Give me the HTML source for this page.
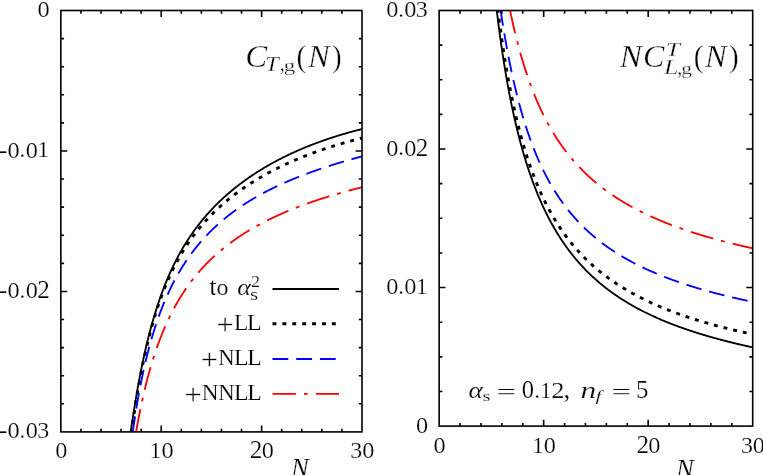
<!DOCTYPE html>
<html><head><meta charset="utf-8"><title>plot</title>
<style>html,body{margin:0;padding:0;background:#fff;overflow:hidden;}svg{display:block;}text{font-family:"Liberation Serif",serif;fill:#000;}</style></head>
<body>
<svg width="763" height="475" viewBox="0 0 763 475">
<rect width="763" height="475" fill="#fff"/>
<path d="M130.73,431.90 L131.19,428.67 L131.65,425.49 L132.12,422.36 L132.58,419.28 L133.04,416.24 L133.51,413.24 L133.97,410.29 L134.43,407.39 L134.90,404.53 L135.36,401.71 L135.82,398.93 L136.29,396.20 L136.75,393.50 L137.21,390.85 L137.68,388.24 L138.14,385.66 L138.61,383.13 L139.07,380.63 L139.53,378.17 L140.00,375.75 L140.46,373.36 L140.92,371.01 L141.39,368.69 L141.85,366.41 L142.31,364.16 L142.78,361.94 L143.24,359.76 L143.70,357.61 L144.17,355.48 L144.63,353.39 L145.09,351.33 L145.56,349.30 L146.02,347.30 L146.48,345.33 L146.95,343.38 L147.41,341.47 L147.87,339.58 L148.34,337.71 L148.80,335.88 L149.26,334.06 L149.73,332.28 L150.19,330.51 L150.66,328.78 L151.12,327.06 L151.58,325.37 L152.05,323.70 L152.51,322.06 L152.97,320.43 L153.44,318.83 L153.90,317.25 L154.36,315.69 L154.83,314.15 L155.29,312.63 L155.75,311.13 L156.22,309.65 L156.68,308.19 L157.14,306.75 L157.61,305.32 L158.07,303.92 L158.53,302.53 L159.00,301.15 L159.46,299.80 L159.92,298.46 L160.39,297.14 L160.85,295.84 L161.32,294.55 L161.78,293.27 L162.24,292.01 L162.71,290.77 L163.17,289.54 L163.63,288.33 L164.10,287.13 L164.56,285.94 L165.02,284.77 L165.49,283.61 L165.95,282.46 L166.41,281.33 L166.88,280.21 L167.34,279.10 L167.80,278.00 L168.27,276.92 L168.73,275.85 L169.19,274.79 L169.66,273.74 L170.12,272.70 L170.58,271.68 L171.05,270.66 L171.51,269.66 L171.98,268.66 L172.44,267.68 L172.90,266.71 L173.37,265.75 L173.83,264.79 L174.29,263.85 L174.76,262.91 L175.22,261.99 L175.68,261.07 L176.15,260.17 L176.61,259.27 L177.07,258.38 L177.54,257.50 L178.00,256.63 L178.46,255.77 L178.93,254.91 L179.39,254.07 L179.85,253.23 L180.32,252.40 L180.78,251.57 L181.24,250.76 L181.71,249.95 L182.17,249.15 L182.64,248.35 L183.10,247.57 L183.56,246.79 L184.03,246.02 L184.49,245.25 L184.95,244.49 L185.42,243.74 L185.88,242.99 L186.34,242.25 L186.81,241.52 L187.27,240.79 L187.73,240.07 L188.20,239.36 L188.66,238.65 L189.12,237.95 L189.59,237.25 L190.05,236.56 L190.51,235.87 L190.98,235.19 L191.44,234.52 L191.90,233.85 L192.37,233.18 L192.83,232.53 L193.30,231.87 L193.76,231.22 L194.22,230.58 L194.69,229.94 L195.15,229.31 L195.61,228.68 L196.08,228.05 L196.54,227.44 L197.00,226.82 L197.47,226.21 L197.93,225.61 L198.39,225.00 L198.86,224.41 L199.32,223.82 L199.78,223.23 L200.25,222.64 L200.71,222.06 L201.17,221.49 L201.64,220.92 L202.10,220.35 L202.56,219.79 L203.03,219.23 L203.49,218.67 L203.96,218.12 L204.42,217.57 L204.88,217.03 L205.35,216.48 L205.81,215.95 L206.27,215.41 L206.74,214.88 L207.20,214.36 L207.66,213.83 L208.13,213.31 L208.59,212.80 L209.05,212.29 L209.52,211.78 L209.98,211.27 L210.44,210.77 L210.91,210.27 L211.37,209.77 L211.83,209.28 L212.30,208.79 L212.76,208.30 L213.22,207.81 L213.69,207.33 L214.15,206.85 L214.61,206.38 L215.08,205.91 L215.54,205.44 L216.01,204.97 L216.47,204.51 L216.93,204.04 L217.40,203.58 L217.86,203.13 L218.32,202.68 L218.79,202.23 L219.25,201.78 L219.71,201.33 L220.18,200.89 L220.64,200.45 L221.10,200.01 L221.57,199.58 L222.03,199.14 L222.49,198.71 L222.96,198.29 L223.42,197.86 L223.88,197.44 L224.35,197.02 L224.81,196.60 L225.27,196.18 L225.74,195.77 L226.20,195.36 L226.67,194.95 L227.13,194.54 L227.59,194.14 L228.06,193.73 L228.52,193.33 L228.98,192.93 L229.45,192.54 L229.91,192.14 L230.37,191.75 L230.84,191.36 L231.30,190.97 L231.76,190.59 L232.23,190.20 L232.69,189.82 L233.15,189.44 L233.62,189.06 L234.08,188.69 L234.54,188.31 L235.01,187.94 L235.47,187.57 L235.93,187.20 L236.40,186.84 L236.86,186.47 L237.33,186.11 L237.79,185.75 L238.25,185.39 L238.72,185.03 L239.18,184.68 L239.64,184.32 L240.11,183.97 L240.57,183.62 L241.03,183.27 L241.50,182.93 L241.96,182.58 L242.42,182.24 L242.89,181.89 L243.35,181.55 L243.81,181.22 L244.28,180.88 L244.74,180.54 L245.20,180.21 L245.67,179.88 L246.13,179.55 L246.59,179.22 L247.06,178.89 L247.52,178.57 L247.99,178.24 L248.45,177.92 L248.91,177.60 L249.38,177.28 L249.84,176.96 L250.30,176.64 L250.77,176.33 L251.23,176.01 L251.69,175.70 L252.16,175.39 L252.62,175.08 L253.08,174.77 L253.55,174.47 L254.01,174.16 L254.47,173.86 L254.94,173.55 L255.40,173.25 L255.86,172.95 L256.33,172.66 L256.79,172.36 L257.25,172.06 L257.72,171.77 L258.18,171.48 L258.65,171.18 L259.11,170.89 L259.57,170.60 L260.04,170.32 L260.50,170.03 L260.96,169.75 L261.43,169.46 L261.89,169.18 L262.35,168.90 L262.82,168.62 L263.28,168.34 L263.74,168.06 L264.21,167.78 L264.67,167.51 L265.13,167.23 L265.60,166.96 L266.06,166.69 L266.52,166.42 L266.99,166.15 L267.45,165.88 L267.91,165.61 L268.38,165.35 L268.84,165.08 L269.30,164.82 L269.77,164.56 L270.23,164.30 L270.70,164.04 L271.16,163.78 L271.62,163.52 L272.09,163.26 L272.55,163.01 L273.01,162.75 L273.48,162.50 L273.94,162.25 L274.40,161.99 L274.87,161.74 L275.33,161.50 L275.79,161.25 L276.26,161.00 L276.72,160.75 L277.18,160.51 L277.65,160.26 L278.11,160.02 L278.57,159.78 L279.04,159.54 L279.50,159.30 L279.96,159.06 L280.43,158.82 L280.89,158.58 L281.36,158.35 L281.82,158.11 L282.28,157.88 L282.75,157.65 L283.21,157.41 L283.67,157.18 L284.14,156.95 L284.60,156.72 L285.06,156.50 L285.53,156.27 L285.99,156.04 L286.45,155.82 L286.92,155.59 L287.38,155.37 L287.84,155.15 L288.31,154.92 L288.77,154.70 L289.23,154.48 L289.70,154.27 L290.16,154.05 L290.62,153.83 L291.09,153.61 L291.55,153.40 L292.02,153.18 L292.48,152.97 L292.94,152.76 L293.41,152.55 L293.87,152.33 L294.33,152.12 L294.80,151.92 L295.26,151.71 L295.72,151.50 L296.19,151.29 L296.65,151.09 L297.11,150.88 L297.58,150.68 L298.04,150.47 L298.50,150.27 L298.97,150.07 L299.43,149.87 L299.89,149.67 L300.36,149.47 L300.82,149.27 L301.28,149.07 L301.75,148.88 L302.21,148.68 L302.68,148.49 L303.14,148.29 L303.60,148.10 L304.07,147.91 L304.53,147.71 L304.99,147.52 L305.46,147.33 L305.92,147.14 L306.38,146.95 L306.85,146.76 L307.31,146.58 L307.77,146.39 L308.24,146.20 L308.70,146.02 L309.16,145.83 L309.63,145.65 L310.09,145.47 L310.55,145.29 L311.02,145.10 L311.48,144.92 L311.94,144.74 L312.41,144.56 L312.87,144.39 L313.34,144.21 L313.80,144.03 L314.26,143.85 L314.73,143.68 L315.19,143.50 L315.65,143.33 L316.12,143.16 L316.58,142.98 L317.04,142.81 L317.51,142.64 L317.97,142.47 L318.43,142.30 L318.90,142.13 L319.36,141.96 L319.82,141.79 L320.29,141.63 L320.75,141.46 L321.21,141.29 L321.68,141.13 L322.14,140.96 L322.60,140.80 L323.07,140.64 L323.53,140.47 L324.00,140.31 L324.46,140.15 L324.92,139.99 L325.39,139.83 L325.85,139.67 L326.31,139.51 L326.78,139.35 L327.24,139.20 L327.70,139.04 L328.17,138.88 L328.63,138.73 L329.09,138.57 L329.56,138.42 L330.02,138.26 L330.48,138.11 L330.95,137.96 L331.41,137.81 L331.87,137.66 L332.34,137.50 L332.80,137.35 L333.26,137.21 L333.73,137.06 L334.19,136.91 L334.65,136.76 L335.12,136.61 L335.58,136.47 L336.05,136.32 L336.51,136.18 L336.97,136.03 L337.44,135.89 L337.90,135.74 L338.36,135.60 L338.83,135.46 L339.29,135.32 L339.75,135.18 L340.22,135.04 L340.68,134.90 L341.14,134.76 L341.61,134.62 L342.07,134.48 L342.53,134.34 L343.00,134.21 L343.46,134.07 L343.92,133.93 L344.39,133.80 L344.85,133.66 L345.31,133.53 L345.78,133.39 L346.24,133.26 L346.71,133.13 L347.17,133.00 L347.63,132.86 L348.10,132.73 L348.56,132.60 L349.02,132.47 L349.49,132.34 L349.95,132.21 L350.41,132.09 L350.88,131.96 L351.34,131.83 L351.80,131.70 L352.27,131.58 L352.73,131.45 L353.19,131.33 L353.66,131.20 L354.12,131.08 L354.58,130.95 L355.05,130.83 L355.51,130.71 L355.97,130.59 L356.44,130.46 L356.90,130.34 L357.37,130.22 L357.83,130.10 L358.29,129.98 L358.76,129.86 L359.22,129.75 L359.68,129.63 L360.15,129.51 L360.61,129.39 L361.07,129.28 L361.54,129.16 L362.00,129.04" fill="none" stroke="#000" stroke-width="1.85"/>
<path d="M131.50,431.90 L131.97,428.54 L132.43,425.24 L132.89,422.00 L133.35,418.81 L133.81,415.68 L134.28,412.60 L134.74,409.58 L135.20,406.61 L135.66,403.68 L136.12,400.81 L136.59,397.99 L137.05,395.21 L137.51,392.48 L137.97,389.79 L138.43,387.15 L138.89,384.56 L139.36,382.01 L139.82,379.49 L140.28,377.03 L140.74,374.60 L141.20,372.21 L141.67,369.85 L142.13,367.54 L142.59,365.26 L143.05,363.02 L143.51,360.82 L143.98,358.65 L144.44,356.52 L144.90,354.41 L145.36,352.34 L145.82,350.31 L146.29,348.30 L146.75,346.33 L147.21,344.38 L147.67,342.46 L148.13,340.58 L148.60,338.72 L149.06,336.89 L149.52,335.09 L149.98,333.31 L150.44,331.56 L150.90,329.83 L151.37,328.13 L151.83,326.46 L152.29,324.80 L152.75,323.18 L153.21,321.57 L153.68,319.99 L154.14,318.43 L154.60,316.89 L155.06,315.37 L155.52,313.88 L155.99,312.40 L156.45,310.94 L156.91,309.51 L157.37,308.09 L157.83,306.69 L158.30,305.31 L158.76,303.95 L159.22,302.61 L159.68,301.28 L160.14,299.97 L160.60,298.68 L161.07,297.41 L161.53,296.15 L161.99,294.90 L162.45,293.67 L162.91,292.46 L163.38,291.26 L163.84,290.08 L164.30,288.91 L164.76,287.76 L165.22,286.62 L165.69,285.49 L166.15,284.38 L166.61,283.28 L167.07,282.19 L167.53,281.12 L168.00,280.05 L168.46,279.00 L168.92,277.97 L169.38,276.94 L169.84,275.92 L170.31,274.92 L170.77,273.93 L171.23,272.95 L171.69,271.98 L172.15,271.02 L172.61,270.07 L173.08,269.13 L173.54,268.20 L174.00,267.28 L174.46,266.37 L174.92,265.47 L175.39,264.58 L175.85,263.70 L176.31,262.83 L176.77,261.97 L177.23,261.11 L177.70,260.26 L178.16,259.43 L178.62,258.60 L179.08,257.78 L179.54,256.96 L180.01,256.16 L180.47,255.36 L180.93,254.57 L181.39,253.79 L181.85,253.02 L182.31,252.25 L182.78,251.49 L183.24,250.74 L183.70,249.99 L184.16,249.25 L184.62,248.52 L185.09,247.79 L185.55,247.07 L186.01,246.36 L186.47,245.66 L186.93,244.96 L187.40,244.26 L187.86,243.57 L188.32,242.89 L188.78,242.22 L189.24,241.55 L189.71,240.88 L190.17,240.22 L190.63,239.57 L191.09,238.92 L191.55,238.28 L192.02,237.64 L192.48,237.01 L192.94,236.38 L193.40,235.76 L193.86,235.14 L194.32,234.53 L194.79,233.93 L195.25,233.32 L195.71,232.73 L196.17,232.13 L196.63,231.55 L197.10,230.96 L197.56,230.38 L198.02,229.81 L198.48,229.24 L198.94,228.67 L199.41,228.11 L199.87,227.55 L200.33,227.00 L200.79,226.45 L201.25,225.90 L201.72,225.36 L202.18,224.82 L202.64,224.29 L203.10,223.76 L203.56,223.23 L204.02,222.71 L204.49,222.19 L204.95,221.68 L205.41,221.17 L205.87,220.66 L206.33,220.15 L206.80,219.65 L207.26,219.15 L207.72,218.66 L208.18,218.17 L208.64,217.68 L209.11,217.20 L209.57,216.72 L210.03,216.24 L210.49,215.76 L210.95,215.29 L211.42,214.82 L211.88,214.36 L212.34,213.89 L212.80,213.43 L213.26,212.98 L213.73,212.52 L214.19,212.07 L214.65,211.62 L215.11,211.18 L215.57,210.73 L216.03,210.29 L216.50,209.86 L216.96,209.42 L217.42,208.99 L217.88,208.56 L218.34,208.13 L218.81,207.71 L219.27,207.29 L219.73,206.87 L220.19,206.45 L220.65,206.03 L221.12,205.62 L221.58,205.21 L222.04,204.80 L222.50,204.40 L222.96,204.00 L223.43,203.60 L223.89,203.20 L224.35,202.80 L224.81,202.41 L225.27,202.02 L225.74,201.63 L226.20,201.24 L226.66,200.86 L227.12,200.47 L227.58,200.09 L228.04,199.71 L228.51,199.34 L228.97,198.96 L229.43,198.59 L229.89,198.22 L230.35,197.85 L230.82,197.48 L231.28,197.12 L231.74,196.76 L232.20,196.40 L232.66,196.04 L233.13,195.68 L233.59,195.33 L234.05,194.97 L234.51,194.62 L234.97,194.27 L235.44,193.92 L235.90,193.58 L236.36,193.23 L236.82,192.89 L237.28,192.55 L237.74,192.21 L238.21,191.87 L238.67,191.54 L239.13,191.20 L239.59,190.87 L240.05,190.54 L240.52,190.21 L240.98,189.88 L241.44,189.56 L241.90,189.23 L242.36,188.91 L242.83,188.59 L243.29,188.27 L243.75,187.95 L244.21,187.64 L244.67,187.32 L245.14,187.01 L245.60,186.69 L246.06,186.38 L246.52,186.08 L246.98,185.77 L247.45,185.46 L247.91,185.16 L248.37,184.85 L248.83,184.55 L249.29,184.25 L249.75,183.95 L250.22,183.65 L250.68,183.36 L251.14,183.06 L251.60,182.77 L252.06,182.48 L252.53,182.19 L252.99,181.90 L253.45,181.61 L253.91,181.32 L254.37,181.04 L254.84,180.75 L255.30,180.47 L255.76,180.19 L256.22,179.91 L256.68,179.63 L257.15,179.35 L257.61,179.07 L258.07,178.80 L258.53,178.52 L258.99,178.25 L259.45,177.98 L259.92,177.71 L260.38,177.44 L260.84,177.17 L261.30,176.90 L261.76,176.64 L262.23,176.37 L262.69,176.11 L263.15,175.84 L263.61,175.58 L264.07,175.32 L264.54,175.06 L265.00,174.81 L265.46,174.55 L265.92,174.29 L266.38,174.04 L266.85,173.78 L267.31,173.53 L267.77,173.28 L268.23,173.03 L268.69,172.78 L269.16,172.53 L269.62,172.28 L270.08,172.04 L270.54,171.79 L271.00,171.55 L271.46,171.30 L271.93,171.06 L272.39,170.82 L272.85,170.58 L273.31,170.34 L273.77,170.10 L274.24,169.87 L274.70,169.63 L275.16,169.39 L275.62,169.16 L276.08,168.93 L276.55,168.69 L277.01,168.46 L277.47,168.23 L277.93,168.00 L278.39,167.77 L278.86,167.55 L279.32,167.32 L279.78,167.09 L280.24,166.87 L280.70,166.64 L281.16,166.42 L281.63,166.20 L282.09,165.98 L282.55,165.76 L283.01,165.54 L283.47,165.32 L283.94,165.10 L284.40,164.88 L284.86,164.67 L285.32,164.45 L285.78,164.24 L286.25,164.02 L286.71,163.81 L287.17,163.60 L287.63,163.39 L288.09,163.18 L288.56,162.97 L289.02,162.76 L289.48,162.55 L289.94,162.34 L290.40,162.14 L290.87,161.93 L291.33,161.73 L291.79,161.52 L292.25,161.32 L292.71,161.12 L293.17,160.92 L293.64,160.72 L294.10,160.52 L294.56,160.32 L295.02,160.12 L295.48,159.92 L295.95,159.73 L296.41,159.53 L296.87,159.34 L297.33,159.14 L297.79,158.95 L298.26,158.76 L298.72,158.56 L299.18,158.37 L299.64,158.18 L300.10,157.99 L300.57,157.80 L301.03,157.61 L301.49,157.43 L301.95,157.24 L302.41,157.05 L302.87,156.87 L303.34,156.68 L303.80,156.50 L304.26,156.31 L304.72,156.13 L305.18,155.95 L305.65,155.77 L306.11,155.59 L306.57,155.41 L307.03,155.23 L307.49,155.05 L307.96,154.87 L308.42,154.69 L308.88,154.52 L309.34,154.34 L309.80,154.17 L310.27,153.99 L310.73,153.82 L311.19,153.64 L311.65,153.47 L312.11,153.30 L312.58,153.13 L313.04,152.96 L313.50,152.79 L313.96,152.62 L314.42,152.45 L314.88,152.28 L315.35,152.11 L315.81,151.95 L316.27,151.78 L316.73,151.61 L317.19,151.45 L317.66,151.28 L318.12,151.12 L318.58,150.96 L319.04,150.79 L319.50,150.63 L319.97,150.47 L320.43,150.31 L320.89,150.15 L321.35,149.99 L321.81,149.83 L322.28,149.67 L322.74,149.52 L323.20,149.36 L323.66,149.20 L324.12,149.05 L324.58,148.89 L325.05,148.74 L325.51,148.58 L325.97,148.43 L326.43,148.27 L326.89,148.12 L327.36,147.97 L327.82,147.82 L328.28,147.67 L328.74,147.52 L329.20,147.37 L329.67,147.22 L330.13,147.07 L330.59,146.92 L331.05,146.77 L331.51,146.63 L331.98,146.48 L332.44,146.33 L332.90,146.19 L333.36,146.04 L333.82,145.90 L334.29,145.76 L334.75,145.61 L335.21,145.47 L335.67,145.33 L336.13,145.19 L336.59,145.05 L337.06,144.90 L337.52,144.76 L337.98,144.62 L338.44,144.49 L338.90,144.35 L339.37,144.21 L339.83,144.07 L340.29,143.93 L340.75,143.80 L341.21,143.66 L341.68,143.53 L342.14,143.39 L342.60,143.26 L343.06,143.12 L343.52,142.99 L343.99,142.86 L344.45,142.72 L344.91,142.59 L345.37,142.46 L345.83,142.33 L346.29,142.20 L346.76,142.07 L347.22,141.94 L347.68,141.81 L348.14,141.68 L348.60,141.55 L349.07,141.42 L349.53,141.30 L349.99,141.17 L350.45,141.04 L350.91,140.92 L351.38,140.79 L351.84,140.67 L352.30,140.54 L352.76,140.42 L353.22,140.30 L353.69,140.17 L354.15,140.05 L354.61,139.93 L355.07,139.81 L355.53,139.69 L356.00,139.56 L356.46,139.44 L356.92,139.32 L357.38,139.20 L357.84,139.09 L358.30,138.97 L358.77,138.85 L359.23,138.73 L359.69,138.61 L360.15,138.50 L360.61,138.38 L361.08,138.26 L361.54,138.15 L362.00,138.03" fill="none" stroke="#000" stroke-width="2.9" stroke-dasharray="3.9 6.0" stroke-dashoffset="1.55"/>
<path d="M132.79,431.90 L133.25,428.63 L133.71,425.44 L134.17,422.31 L134.63,419.25 L135.09,416.25 L135.55,413.32 L136.00,410.44 L136.46,407.63 L136.92,404.87 L137.38,402.16 L137.84,399.51 L138.30,396.91 L138.76,394.36 L139.22,391.86 L139.68,389.41 L140.14,387.00 L140.60,384.64 L141.06,382.31 L141.52,380.04 L141.98,377.80 L142.44,375.60 L142.89,373.44 L143.35,371.32 L143.81,369.23 L144.27,367.18 L144.73,365.17 L145.19,363.19 L145.65,361.24 L146.11,359.32 L146.57,357.43 L147.03,355.58 L147.49,353.75 L147.95,351.95 L148.41,350.19 L148.87,348.44 L149.33,346.73 L149.78,345.04 L150.24,343.38 L150.70,341.74 L151.16,340.12 L151.62,338.53 L152.08,336.97 L152.54,335.42 L153.00,333.90 L153.46,332.40 L153.92,330.92 L154.38,329.46 L154.84,328.02 L155.30,326.60 L155.76,325.20 L156.22,323.81 L156.68,322.45 L157.13,321.11 L157.59,319.78 L158.05,318.47 L158.51,317.17 L158.97,315.90 L159.43,314.64 L159.89,313.39 L160.35,312.16 L160.81,310.95 L161.27,309.75 L161.73,308.57 L162.19,307.40 L162.65,306.24 L163.11,305.10 L163.57,303.97 L164.02,302.85 L164.48,301.75 L164.94,300.66 L165.40,299.58 L165.86,298.52 L166.32,297.47 L166.78,296.43 L167.24,295.40 L167.70,294.38 L168.16,293.37 L168.62,292.38 L169.08,291.39 L169.54,290.42 L170.00,289.46 L170.46,288.50 L170.91,287.56 L171.37,286.63 L171.83,285.70 L172.29,284.79 L172.75,283.88 L173.21,282.99 L173.67,282.10 L174.13,281.23 L174.59,280.36 L175.05,279.50 L175.51,278.65 L175.97,277.80 L176.43,276.97 L176.89,276.14 L177.35,275.32 L177.80,274.51 L178.26,273.71 L178.72,272.91 L179.18,272.13 L179.64,271.35 L180.10,270.57 L180.56,269.81 L181.02,269.05 L181.48,268.30 L181.94,267.55 L182.40,266.81 L182.86,266.08 L183.32,265.36 L183.78,264.64 L184.24,263.92 L184.69,263.22 L185.15,262.52 L185.61,261.82 L186.07,261.14 L186.53,260.46 L186.99,259.78 L187.45,259.11 L187.91,258.44 L188.37,257.79 L188.83,257.13 L189.29,256.48 L189.75,255.84 L190.21,255.20 L190.67,254.57 L191.13,253.94 L191.58,253.32 L192.04,252.71 L192.50,252.09 L192.96,251.49 L193.42,250.88 L193.88,250.29 L194.34,249.69 L194.80,249.11 L195.26,248.52 L195.72,247.94 L196.18,247.37 L196.64,246.80 L197.10,246.23 L197.56,245.67 L198.02,245.11 L198.48,244.56 L198.93,244.01 L199.39,243.47 L199.85,242.93 L200.31,242.39 L200.77,241.86 L201.23,241.33 L201.69,240.80 L202.15,240.28 L202.61,239.76 L203.07,239.25 L203.53,238.74 L203.99,238.23 L204.45,237.73 L204.91,237.23 L205.37,236.74 L205.82,236.24 L206.28,235.76 L206.74,235.27 L207.20,234.79 L207.66,234.31 L208.12,233.83 L208.58,233.36 L209.04,232.89 L209.50,232.43 L209.96,231.96 L210.42,231.50 L210.88,231.05 L211.34,230.59 L211.80,230.14 L212.26,229.70 L212.71,229.25 L213.17,228.81 L213.63,228.37 L214.09,227.93 L214.55,227.50 L215.01,227.07 L215.47,226.64 L215.93,226.22 L216.39,225.80 L216.85,225.38 L217.31,224.96 L217.77,224.55 L218.23,224.13 L218.69,223.72 L219.15,223.32 L219.60,222.91 L220.06,222.51 L220.52,222.11 L220.98,221.72 L221.44,221.32 L221.90,220.93 L222.36,220.54 L222.82,220.15 L223.28,219.77 L223.74,219.39 L224.20,219.00 L224.66,218.63 L225.12,218.25 L225.58,217.88 L226.04,217.51 L226.49,217.14 L226.95,216.77 L227.41,216.40 L227.87,216.04 L228.33,215.68 L228.79,215.32 L229.25,214.96 L229.71,214.61 L230.17,214.26 L230.63,213.91 L231.09,213.56 L231.55,213.21 L232.01,212.86 L232.47,212.52 L232.93,212.18 L233.38,211.84 L233.84,211.50 L234.30,211.17 L234.76,210.83 L235.22,210.50 L235.68,210.17 L236.14,209.84 L236.60,209.52 L237.06,209.19 L237.52,208.87 L237.98,208.55 L238.44,208.23 L238.90,207.91 L239.36,207.59 L239.82,207.28 L240.27,206.97 L240.73,206.65 L241.19,206.34 L241.65,206.04 L242.11,205.73 L242.57,205.42 L243.03,205.12 L243.49,204.82 L243.95,204.52 L244.41,204.22 L244.87,203.92 L245.33,203.62 L245.79,203.33 L246.25,203.04 L246.71,202.75 L247.17,202.46 L247.62,202.17 L248.08,201.88 L248.54,201.59 L249.00,201.31 L249.46,201.03 L249.92,200.74 L250.38,200.46 L250.84,200.18 L251.30,199.91 L251.76,199.63 L252.22,199.36 L252.68,199.08 L253.14,198.81 L253.60,198.54 L254.06,198.27 L254.51,198.00 L254.97,197.73 L255.43,197.47 L255.89,197.20 L256.35,196.94 L256.81,196.67 L257.27,196.41 L257.73,196.15 L258.19,195.89 L258.65,195.64 L259.11,195.38 L259.57,195.12 L260.03,194.87 L260.49,194.62 L260.95,194.37 L261.40,194.11 L261.86,193.86 L262.32,193.62 L262.78,193.37 L263.24,193.12 L263.70,192.88 L264.16,192.63 L264.62,192.39 L265.08,192.15 L265.54,191.91 L266.00,191.67 L266.46,191.43 L266.92,191.19 L267.38,190.95 L267.84,190.72 L268.29,190.48 L268.75,190.25 L269.21,190.01 L269.67,189.78 L270.13,189.55 L270.59,189.32 L271.05,189.09 L271.51,188.86 L271.97,188.64 L272.43,188.41 L272.89,188.18 L273.35,187.96 L273.81,187.74 L274.27,187.51 L274.73,187.29 L275.18,187.07 L275.64,186.85 L276.10,186.63 L276.56,186.41 L277.02,186.20 L277.48,185.98 L277.94,185.76 L278.40,185.55 L278.86,185.33 L279.32,185.12 L279.78,184.91 L280.24,184.70 L280.70,184.49 L281.16,184.28 L281.62,184.07 L282.07,183.86 L282.53,183.65 L282.99,183.45 L283.45,183.24 L283.91,183.04 L284.37,182.83 L284.83,182.63 L285.29,182.43 L285.75,182.22 L286.21,182.02 L286.67,181.82 L287.13,181.62 L287.59,181.42 L288.05,181.23 L288.51,181.03 L288.96,180.83 L289.42,180.64 L289.88,180.44 L290.34,180.25 L290.80,180.05 L291.26,179.86 L291.72,179.67 L292.18,179.47 L292.64,179.28 L293.10,179.09 L293.56,178.90 L294.02,178.71 L294.48,178.53 L294.94,178.34 L295.40,178.15 L295.86,177.97 L296.31,177.78 L296.77,177.60 L297.23,177.41 L297.69,177.23 L298.15,177.04 L298.61,176.86 L299.07,176.68 L299.53,176.50 L299.99,176.32 L300.45,176.14 L300.91,175.96 L301.37,175.78 L301.83,175.60 L302.29,175.42 L302.75,175.25 L303.20,175.07 L303.66,174.90 L304.12,174.72 L304.58,174.55 L305.04,174.37 L305.50,174.20 L305.96,174.03 L306.42,173.85 L306.88,173.68 L307.34,173.51 L307.80,173.34 L308.26,173.17 L308.72,173.00 L309.18,172.83 L309.64,172.66 L310.09,172.50 L310.55,172.33 L311.01,172.16 L311.47,172.00 L311.93,171.83 L312.39,171.66 L312.85,171.50 L313.31,171.34 L313.77,171.17 L314.23,171.01 L314.69,170.85 L315.15,170.68 L315.61,170.52 L316.07,170.36 L316.53,170.20 L316.98,170.04 L317.44,169.88 L317.90,169.72 L318.36,169.56 L318.82,169.41 L319.28,169.25 L319.74,169.09 L320.20,168.93 L320.66,168.78 L321.12,168.62 L321.58,168.47 L322.04,168.31 L322.50,168.16 L322.96,168.00 L323.42,167.85 L323.87,167.70 L324.33,167.55 L324.79,167.39 L325.25,167.24 L325.71,167.09 L326.17,166.94 L326.63,166.79 L327.09,166.64 L327.55,166.49 L328.01,166.34 L328.47,166.19 L328.93,166.05 L329.39,165.90 L329.85,165.75 L330.31,165.60 L330.76,165.46 L331.22,165.31 L331.68,165.17 L332.14,165.02 L332.60,164.88 L333.06,164.73 L333.52,164.59 L333.98,164.44 L334.44,164.30 L334.90,164.16 L335.36,164.02 L335.82,163.87 L336.28,163.73 L336.74,163.59 L337.20,163.45 L337.65,163.31 L338.11,163.17 L338.57,163.03 L339.03,162.89 L339.49,162.75 L339.95,162.61 L340.41,162.47 L340.87,162.34 L341.33,162.20 L341.79,162.06 L342.25,161.93 L342.71,161.79 L343.17,161.65 L343.63,161.52 L344.09,161.38 L344.55,161.25 L345.00,161.11 L345.46,160.98 L345.92,160.85 L346.38,160.71 L346.84,160.58 L347.30,160.45 L347.76,160.31 L348.22,160.18 L348.68,160.05 L349.14,159.92 L349.60,159.79 L350.06,159.66 L350.52,159.53 L350.98,159.40 L351.44,159.27 L351.89,159.14 L352.35,159.01 L352.81,158.88 L353.27,158.75 L353.73,158.62 L354.19,158.49 L354.65,158.37 L355.11,158.24 L355.57,158.11 L356.03,157.99 L356.49,157.86 L356.95,157.73 L357.41,157.61 L357.87,157.48 L358.33,157.36 L358.78,157.23 L359.24,157.11 L359.70,156.98 L360.16,156.86 L360.62,156.74 L361.08,156.61 L361.54,156.49 L362.00,156.37" fill="none" stroke="#00f" stroke-width="1.85" stroke-dasharray="15.8 7.9" stroke-dashoffset="0.20"/>
<path d="M136.12,431.90 L136.57,429.31 L137.02,426.76 L137.47,424.26 L137.93,421.81 L138.38,419.39 L138.83,417.02 L139.28,414.70 L139.74,412.41 L140.19,410.16 L140.64,407.95 L141.09,405.77 L141.55,403.64 L142.00,401.53 L142.45,399.47 L142.91,397.43 L143.36,395.43 L143.81,393.46 L144.26,391.52 L144.72,389.62 L145.17,387.74 L145.62,385.89 L146.07,384.07 L146.53,382.28 L146.98,380.51 L147.43,378.78 L147.88,377.06 L148.34,375.38 L148.79,373.71 L149.24,372.08 L149.70,370.46 L150.15,368.87 L150.60,367.30 L151.05,365.76 L151.51,364.23 L151.96,362.73 L152.41,361.25 L152.86,359.78 L153.32,358.34 L153.77,356.92 L154.22,355.52 L154.67,354.13 L155.13,352.77 L155.58,351.42 L156.03,350.09 L156.49,348.77 L156.94,347.48 L157.39,346.20 L157.84,344.93 L158.30,343.69 L158.75,342.45 L159.20,341.24 L159.65,340.03 L160.11,338.85 L160.56,337.68 L161.01,336.52 L161.47,335.37 L161.92,334.24 L162.37,333.12 L162.82,332.02 L163.28,330.93 L163.73,329.85 L164.18,328.78 L164.63,327.73 L165.09,326.69 L165.54,325.66 L165.99,324.64 L166.44,323.63 L166.90,322.63 L167.35,321.65 L167.80,320.67 L168.26,319.71 L168.71,318.76 L169.16,317.81 L169.61,316.88 L170.07,315.96 L170.52,315.04 L170.97,314.14 L171.42,313.24 L171.88,312.36 L172.33,311.48 L172.78,310.61 L173.23,309.76 L173.69,308.91 L174.14,308.06 L174.59,307.23 L175.05,306.41 L175.50,305.59 L175.95,304.78 L176.40,303.98 L176.86,303.19 L177.31,302.40 L177.76,301.62 L178.21,300.85 L178.67,300.09 L179.12,299.33 L179.57,298.58 L180.02,297.84 L180.48,297.11 L180.93,296.38 L181.38,295.65 L181.84,294.94 L182.29,294.23 L182.74,293.53 L183.19,292.83 L183.65,292.14 L184.10,291.46 L184.55,290.78 L185.00,290.11 L185.46,289.44 L185.91,288.78 L186.36,288.12 L186.81,287.47 L187.27,286.83 L187.72,286.19 L188.17,285.56 L188.63,284.93 L189.08,284.31 L189.53,283.69 L189.98,283.08 L190.44,282.47 L190.89,281.87 L191.34,281.27 L191.79,280.68 L192.25,280.09 L192.70,279.51 L193.15,278.93 L193.60,278.35 L194.06,277.78 L194.51,277.22 L194.96,276.66 L195.42,276.10 L195.87,275.55 L196.32,275.00 L196.77,274.46 L197.23,273.92 L197.68,273.38 L198.13,272.85 L198.58,272.32 L199.04,271.80 L199.49,271.28 L199.94,270.76 L200.40,270.25 L200.85,269.74 L201.30,269.23 L201.75,268.73 L202.21,268.24 L202.66,267.74 L203.11,267.25 L203.56,266.76 L204.02,266.28 L204.47,265.80 L204.92,265.32 L205.37,264.85 L205.83,264.38 L206.28,263.91 L206.73,263.45 L207.19,262.99 L207.64,262.53 L208.09,262.07 L208.54,261.62 L209.00,261.17 L209.45,260.73 L209.90,260.28 L210.35,259.84 L210.81,259.41 L211.26,258.97 L211.71,258.54 L212.16,258.11 L212.62,257.69 L213.07,257.27 L213.52,256.85 L213.98,256.43 L214.43,256.01 L214.88,255.60 L215.33,255.19 L215.79,254.78 L216.24,254.38 L216.69,253.98 L217.14,253.58 L217.60,253.18 L218.05,252.79 L218.50,252.39 L218.95,252.00 L219.41,251.62 L219.86,251.23 L220.31,250.85 L220.77,250.47 L221.22,250.09 L221.67,249.71 L222.12,249.34 L222.58,248.97 L223.03,248.60 L223.48,248.23 L223.93,247.87 L224.39,247.50 L224.84,247.14 L225.29,246.79 L225.74,246.43 L226.20,246.07 L226.65,245.72 L227.10,245.37 L227.56,245.02 L228.01,244.68 L228.46,244.33 L228.91,243.99 L229.37,243.65 L229.82,243.31 L230.27,242.97 L230.72,242.64 L231.18,242.30 L231.63,241.97 L232.08,241.64 L232.54,241.31 L232.99,240.99 L233.44,240.66 L233.89,240.34 L234.35,240.02 L234.80,239.70 L235.25,239.38 L235.70,239.07 L236.16,238.75 L236.61,238.44 L237.06,238.13 L237.51,237.82 L237.97,237.51 L238.42,237.20 L238.87,236.90 L239.33,236.60 L239.78,236.30 L240.23,236.00 L240.68,235.70 L241.14,235.40 L241.59,235.10 L242.04,234.81 L242.49,234.52 L242.95,234.23 L243.40,233.94 L243.85,233.65 L244.30,233.36 L244.76,233.08 L245.21,232.79 L245.66,232.51 L246.12,232.23 L246.57,231.95 L247.02,231.67 L247.47,231.40 L247.93,231.12 L248.38,230.85 L248.83,230.57 L249.28,230.30 L249.74,230.03 L250.19,229.76 L250.64,229.49 L251.09,229.23 L251.55,228.96 L252.00,228.70 L252.45,228.43 L252.91,228.17 L253.36,227.91 L253.81,227.65 L254.26,227.40 L254.72,227.14 L255.17,226.88 L255.62,226.63 L256.07,226.38 L256.53,226.12 L256.98,225.87 L257.43,225.62 L257.88,225.37 L258.34,225.13 L258.79,224.88 L259.24,224.63 L259.70,224.39 L260.15,224.15 L260.60,223.90 L261.05,223.66 L261.51,223.42 L261.96,223.18 L262.41,222.95 L262.86,222.71 L263.32,222.47 L263.77,222.24 L264.22,222.00 L264.67,221.77 L265.13,221.54 L265.58,221.31 L266.03,221.08 L266.49,220.85 L266.94,220.62 L267.39,220.40 L267.84,220.17 L268.30,219.94 L268.75,219.72 L269.20,219.50 L269.65,219.28 L270.11,219.05 L270.56,218.83 L271.01,218.61 L271.47,218.40 L271.92,218.18 L272.37,217.96 L272.82,217.75 L273.28,217.53 L273.73,217.32 L274.18,217.10 L274.63,216.89 L275.09,216.68 L275.54,216.47 L275.99,216.26 L276.44,216.05 L276.90,215.84 L277.35,215.63 L277.80,215.43 L278.26,215.22 L278.71,215.02 L279.16,214.81 L279.61,214.61 L280.07,214.41 L280.52,214.21 L280.97,214.01 L281.42,213.81 L281.88,213.61 L282.33,213.41 L282.78,213.21 L283.23,213.01 L283.69,212.82 L284.14,212.62 L284.59,212.43 L285.05,212.23 L285.50,212.04 L285.95,211.85 L286.40,211.66 L286.86,211.46 L287.31,211.27 L287.76,211.08 L288.21,210.90 L288.67,210.71 L289.12,210.52 L289.57,210.33 L290.02,210.15 L290.48,209.96 L290.93,209.78 L291.38,209.59 L291.84,209.41 L292.29,209.23 L292.74,209.05 L293.19,208.86 L293.65,208.68 L294.10,208.50 L294.55,208.32 L295.00,208.15 L295.46,207.97 L295.91,207.79 L296.36,207.61 L296.81,207.44 L297.27,207.26 L297.72,207.09 L298.17,206.91 L298.63,206.74 L299.08,206.57 L299.53,206.39 L299.98,206.22 L300.44,206.05 L300.89,205.88 L301.34,205.71 L301.79,205.54 L302.25,205.37 L302.70,205.20 L303.15,205.04 L303.60,204.87 L304.06,204.70 L304.51,204.54 L304.96,204.37 L305.42,204.21 L305.87,204.04 L306.32,203.88 L306.77,203.72 L307.23,203.55 L307.68,203.39 L308.13,203.23 L308.58,203.07 L309.04,202.91 L309.49,202.75 L309.94,202.59 L310.40,202.43 L310.85,202.27 L311.30,202.11 L311.75,201.96 L312.21,201.80 L312.66,201.65 L313.11,201.49 L313.56,201.33 L314.02,201.18 L314.47,201.03 L314.92,200.87 L315.37,200.72 L315.83,200.57 L316.28,200.42 L316.73,200.26 L317.19,200.11 L317.64,199.96 L318.09,199.81 L318.54,199.66 L319.00,199.51 L319.45,199.36 L319.90,199.22 L320.35,199.07 L320.81,198.92 L321.26,198.78 L321.71,198.63 L322.16,198.48 L322.62,198.34 L323.07,198.19 L323.52,198.05 L323.98,197.91 L324.43,197.76 L324.88,197.62 L325.33,197.48 L325.79,197.33 L326.24,197.19 L326.69,197.05 L327.14,196.91 L327.60,196.77 L328.05,196.63 L328.50,196.49 L328.95,196.35 L329.41,196.21 L329.86,196.07 L330.31,195.94 L330.77,195.80 L331.22,195.66 L331.67,195.53 L332.12,195.39 L332.58,195.25 L333.03,195.12 L333.48,194.98 L333.93,194.85 L334.39,194.72 L334.84,194.58 L335.29,194.45 L335.74,194.32 L336.20,194.18 L336.65,194.05 L337.10,193.92 L337.56,193.79 L338.01,193.66 L338.46,193.53 L338.91,193.40 L339.37,193.27 L339.82,193.14 L340.27,193.01 L340.72,192.88 L341.18,192.75 L341.63,192.62 L342.08,192.50 L342.53,192.37 L342.99,192.24 L343.44,192.12 L343.89,191.99 L344.35,191.87 L344.80,191.74 L345.25,191.62 L345.70,191.49 L346.16,191.37 L346.61,191.24 L347.06,191.12 L347.51,191.00 L347.97,190.87 L348.42,190.75 L348.87,190.63 L349.33,190.51 L349.78,190.39 L350.23,190.27 L350.68,190.14 L351.14,190.02 L351.59,189.90 L352.04,189.79 L352.49,189.67 L352.95,189.55 L353.40,189.43 L353.85,189.31 L354.30,189.19 L354.76,189.07 L355.21,188.96 L355.66,188.84 L356.12,188.72 L356.57,188.61 L357.02,188.49 L357.47,188.38 L357.93,188.26 L358.38,188.14 L358.83,188.03 L359.28,187.92 L359.74,187.80 L360.19,187.69 L360.64,187.57 L361.09,187.46 L361.55,187.35 L362.00,187.24" fill="none" stroke="#f00" stroke-width="1.85" stroke-dasharray="23.4 8.1 3.7 8.2" stroke-dashoffset="0.40"/>
<path d="M496.77,10.50 L497.29,14.77 L497.80,18.94 L498.31,23.02 L498.82,27.01 L499.34,30.92 L499.85,34.75 L500.36,38.50 L500.88,42.17 L501.39,45.77 L501.90,49.29 L502.41,52.75 L502.93,56.14 L503.44,59.46 L503.95,62.72 L504.47,65.92 L504.98,69.06 L505.49,72.14 L506.00,75.17 L506.52,78.14 L507.03,81.06 L507.54,83.92 L508.06,86.74 L508.57,89.50 L509.08,92.22 L509.59,94.90 L510.11,97.53 L510.62,100.11 L511.13,102.65 L511.65,105.15 L512.16,107.61 L512.67,110.03 L513.19,112.41 L513.70,114.75 L514.21,117.06 L514.72,119.33 L515.24,121.57 L515.75,123.77 L516.26,125.94 L516.78,128.07 L517.29,130.17 L517.80,132.25 L518.31,134.29 L518.83,136.30 L519.34,138.28 L519.85,140.24 L520.37,142.16 L520.88,144.06 L521.39,145.94 L521.90,147.78 L522.42,149.60 L522.93,151.40 L523.44,153.17 L523.96,154.92 L524.47,156.64 L524.98,158.34 L525.49,160.02 L526.01,161.68 L526.52,163.31 L527.03,164.93 L527.55,166.52 L528.06,168.09 L528.57,169.64 L529.08,171.17 L529.60,172.69 L530.11,174.18 L530.62,175.66 L531.14,177.11 L531.65,178.55 L532.16,179.98 L532.67,181.38 L533.19,182.77 L533.70,184.14 L534.21,185.49 L534.73,186.83 L535.24,188.16 L535.75,189.46 L536.26,190.75 L536.78,192.03 L537.29,193.29 L537.80,194.54 L538.32,195.78 L538.83,197.00 L539.34,198.20 L539.85,199.40 L540.37,200.57 L540.88,201.74 L541.39,202.89 L541.91,204.04 L542.42,205.16 L542.93,206.28 L543.45,207.38 L543.96,208.48 L544.47,209.56 L544.98,210.63 L545.50,211.69 L546.01,212.73 L546.52,213.77 L547.04,214.79 L547.55,215.81 L548.06,216.81 L548.57,217.81 L549.09,218.79 L549.60,219.76 L550.11,220.73 L550.63,221.68 L551.14,222.63 L551.65,223.56 L552.16,224.49 L552.68,225.41 L553.19,226.31 L553.70,227.21 L554.22,228.10 L554.73,228.98 L555.24,229.86 L555.75,230.72 L556.27,231.58 L556.78,232.43 L557.29,233.27 L557.81,234.10 L558.32,234.93 L558.83,235.74 L559.34,236.55 L559.86,237.36 L560.37,238.15 L560.88,238.94 L561.40,239.72 L561.91,240.49 L562.42,241.26 L562.93,242.02 L563.45,242.77 L563.96,243.52 L564.47,244.25 L564.99,244.99 L565.50,245.71 L566.01,246.43 L566.52,247.15 L567.04,247.85 L567.55,248.56 L568.06,249.25 L568.58,249.94 L569.09,250.62 L569.60,251.30 L570.11,251.97 L570.63,252.64 L571.14,253.30 L571.65,253.95 L572.17,254.60 L572.68,255.25 L573.19,255.89 L573.70,256.52 L574.22,257.15 L574.73,257.77 L575.24,258.39 L575.76,259.00 L576.27,259.61 L576.78,260.21 L577.30,260.81 L577.81,261.41 L578.32,262.00 L578.83,262.58 L579.35,263.16 L579.86,263.74 L580.37,264.31 L580.89,264.87 L581.40,265.43 L581.91,265.99 L582.42,266.54 L582.94,267.09 L583.45,267.64 L583.96,268.18 L584.48,268.71 L584.99,269.25 L585.50,269.78 L586.01,270.30 L586.53,270.82 L587.04,271.34 L587.55,271.85 L588.07,272.36 L588.58,272.86 L589.09,273.36 L589.60,273.86 L590.12,274.36 L590.63,274.85 L591.14,275.33 L591.66,275.82 L592.17,276.30 L592.68,276.77 L593.19,277.25 L593.71,277.72 L594.22,278.18 L594.73,278.65 L595.25,279.11 L595.76,279.56 L596.27,280.02 L596.78,280.47 L597.30,280.91 L597.81,281.36 L598.32,281.80 L598.84,282.24 L599.35,282.67 L599.86,283.11 L600.37,283.53 L600.89,283.96 L601.40,284.38 L601.91,284.80 L602.43,285.22 L602.94,285.64 L603.45,286.05 L603.96,286.46 L604.48,286.87 L604.99,287.27 L605.50,287.67 L606.02,288.07 L606.53,288.47 L607.04,288.86 L607.56,289.25 L608.07,289.64 L608.58,290.02 L609.09,290.41 L609.61,290.79 L610.12,291.17 L610.63,291.54 L611.15,291.92 L611.66,292.29 L612.17,292.66 L612.68,293.03 L613.20,293.39 L613.71,293.75 L614.22,294.11 L614.74,294.47 L615.25,294.83 L615.76,295.18 L616.27,295.53 L616.79,295.88 L617.30,296.23 L617.81,296.57 L618.33,296.91 L618.84,297.25 L619.35,297.59 L619.86,297.93 L620.38,298.26 L620.89,298.60 L621.40,298.93 L621.92,299.26 L622.43,299.58 L622.94,299.91 L623.45,300.23 L623.97,300.55 L624.48,300.87 L624.99,301.19 L625.51,301.50 L626.02,301.82 L626.53,302.13 L627.04,302.44 L627.56,302.75 L628.07,303.05 L628.58,303.36 L629.10,303.66 L629.61,303.96 L630.12,304.26 L630.63,304.56 L631.15,304.86 L631.66,305.15 L632.17,305.44 L632.69,305.73 L633.20,306.02 L633.71,306.31 L634.22,306.60 L634.74,306.88 L635.25,307.17 L635.76,307.45 L636.28,307.73 L636.79,308.01 L637.30,308.29 L637.81,308.56 L638.33,308.84 L638.84,309.11 L639.35,309.38 L639.87,309.65 L640.38,309.92 L640.89,310.19 L641.41,310.45 L641.92,310.72 L642.43,310.98 L642.94,311.24 L643.46,311.50 L643.97,311.76 L644.48,312.02 L645.00,312.27 L645.51,312.53 L646.02,312.78 L646.53,313.03 L647.05,313.28 L647.56,313.53 L648.07,313.78 L648.59,314.03 L649.10,314.28 L649.61,314.52 L650.12,314.76 L650.64,315.01 L651.15,315.25 L651.66,315.49 L652.18,315.73 L652.69,315.96 L653.20,316.20 L653.71,316.43 L654.23,316.67 L654.74,316.90 L655.25,317.13 L655.77,317.36 L656.28,317.59 L656.79,317.82 L657.30,318.05 L657.82,318.27 L658.33,318.50 L658.84,318.72 L659.36,318.95 L659.87,319.17 L660.38,319.39 L660.89,319.61 L661.41,319.83 L661.92,320.04 L662.43,320.26 L662.95,320.48 L663.46,320.69 L663.97,320.90 L664.48,321.12 L665.00,321.33 L665.51,321.54 L666.02,321.75 L666.54,321.96 L667.05,322.16 L667.56,322.37 L668.07,322.58 L668.59,322.78 L669.10,322.99 L669.61,323.19 L670.13,323.39 L670.64,323.59 L671.15,323.79 L671.66,323.99 L672.18,324.19 L672.69,324.39 L673.20,324.59 L673.72,324.78 L674.23,324.98 L674.74,325.17 L675.26,325.36 L675.77,325.56 L676.28,325.75 L676.79,325.94 L677.31,326.13 L677.82,326.32 L678.33,326.51 L678.85,326.69 L679.36,326.88 L679.87,327.07 L680.38,327.25 L680.90,327.44 L681.41,327.62 L681.92,327.80 L682.44,327.98 L682.95,328.16 L683.46,328.34 L683.97,328.52 L684.49,328.70 L685.00,328.88 L685.51,329.06 L686.03,329.24 L686.54,329.41 L687.05,329.59 L687.56,329.76 L688.08,329.94 L688.59,330.11 L689.10,330.28 L689.62,330.45 L690.13,330.62 L690.64,330.79 L691.15,330.96 L691.67,331.13 L692.18,331.30 L692.69,331.47 L693.21,331.63 L693.72,331.80 L694.23,331.97 L694.74,332.13 L695.26,332.30 L695.77,332.46 L696.28,332.62 L696.80,332.78 L697.31,332.95 L697.82,333.11 L698.33,333.27 L698.85,333.43 L699.36,333.59 L699.87,333.74 L700.39,333.90 L700.90,334.06 L701.41,334.22 L701.92,334.37 L702.44,334.53 L702.95,334.68 L703.46,334.84 L703.98,334.99 L704.49,335.14 L705.00,335.30 L705.52,335.45 L706.03,335.60 L706.54,335.75 L707.05,335.90 L707.57,336.05 L708.08,336.20 L708.59,336.35 L709.11,336.50 L709.62,336.64 L710.13,336.79 L710.64,336.94 L711.16,337.08 L711.67,337.23 L712.18,337.37 L712.70,337.52 L713.21,337.66 L713.72,337.80 L714.23,337.95 L714.75,338.09 L715.26,338.23 L715.77,338.37 L716.29,338.51 L716.80,338.65 L717.31,338.79 L717.82,338.93 L718.34,339.07 L718.85,339.21 L719.36,339.34 L719.88,339.48 L720.39,339.62 L720.90,339.75 L721.41,339.89 L721.93,340.03 L722.44,340.16 L722.95,340.29 L723.47,340.43 L723.98,340.56 L724.49,340.69 L725.00,340.83 L725.52,340.96 L726.03,341.09 L726.54,341.22 L727.06,341.35 L727.57,341.48 L728.08,341.61 L728.59,341.74 L729.11,341.87 L729.62,342.00 L730.13,342.13 L730.65,342.25 L731.16,342.38 L731.67,342.51 L732.18,342.63 L732.70,342.76 L733.21,342.88 L733.72,343.01 L734.24,343.13 L734.75,343.26 L735.26,343.38 L735.77,343.51 L736.29,343.63 L736.80,343.75 L737.31,343.87 L737.83,343.99 L738.34,344.12 L738.85,344.24 L739.37,344.36 L739.88,344.48 L740.39,344.60 L740.90,344.72 L741.42,344.84 L741.93,344.95 L742.44,345.07 L742.96,345.19 L743.47,345.31 L743.98,345.43 L744.49,345.54 L745.01,345.66 L745.52,345.77 L746.03,345.89 L746.55,346.00 L747.06,346.12 L747.57,346.23 L748.08,346.35 L748.60,346.46 L749.11,346.58 L749.62,346.69 L750.14,346.80 L750.65,346.91 L751.16,347.03 L751.67,347.14 L752.19,347.25 L752.70,347.36" fill="none" stroke="#000" stroke-width="1.85"/>
<path d="M497.96,10.50 L498.47,14.57 L498.98,18.55 L499.49,22.46 L500.00,26.29 L500.52,30.04 L501.03,33.73 L501.54,37.34 L502.05,40.88 L502.56,44.36 L503.07,47.77 L503.58,51.12 L504.09,54.40 L504.60,57.63 L505.11,60.79 L505.62,63.90 L506.13,66.95 L506.64,69.95 L507.15,72.89 L507.66,75.78 L508.17,78.62 L508.68,81.41 L509.19,84.15 L509.70,86.85 L510.21,89.50 L510.72,92.10 L511.24,94.66 L511.75,97.18 L512.26,99.65 L512.77,102.09 L513.28,104.48 L513.79,106.84 L514.30,109.15 L514.81,111.43 L515.32,113.68 L515.83,115.88 L516.34,118.06 L516.85,120.19 L517.36,122.30 L517.87,124.37 L518.38,126.41 L518.89,128.42 L519.40,130.40 L519.91,132.35 L520.42,134.28 L520.93,136.17 L521.45,138.03 L521.96,139.87 L522.47,141.68 L522.98,143.47 L523.49,145.22 L524.00,146.96 L524.51,148.67 L525.02,150.35 L525.53,152.01 L526.04,153.65 L526.55,155.27 L527.06,156.86 L527.57,158.44 L528.08,159.99 L528.59,161.52 L529.10,163.03 L529.61,164.52 L530.12,165.99 L530.63,167.44 L531.14,168.87 L531.66,170.29 L532.17,171.68 L532.68,173.06 L533.19,174.42 L533.70,175.76 L534.21,177.09 L534.72,178.40 L535.23,179.69 L535.74,180.97 L536.25,182.23 L536.76,183.48 L537.27,184.71 L537.78,185.93 L538.29,187.13 L538.80,188.32 L539.31,189.49 L539.82,190.66 L540.33,191.80 L540.84,192.94 L541.35,194.06 L541.87,195.17 L542.38,196.26 L542.89,197.34 L543.40,198.42 L543.91,199.48 L544.42,200.52 L544.93,201.56 L545.44,202.58 L545.95,203.60 L546.46,204.60 L546.97,205.59 L547.48,206.57 L547.99,207.54 L548.50,208.50 L549.01,209.45 L549.52,210.39 L550.03,211.32 L550.54,212.24 L551.05,213.15 L551.56,214.06 L552.08,214.95 L552.59,215.83 L553.10,216.71 L553.61,217.57 L554.12,218.43 L554.63,219.28 L555.14,220.12 L555.65,220.95 L556.16,221.78 L556.67,222.59 L557.18,223.40 L557.69,224.20 L558.20,224.99 L558.71,225.78 L559.22,226.56 L559.73,227.33 L560.24,228.09 L560.75,228.85 L561.26,229.60 L561.77,230.34 L562.29,231.08 L562.80,231.81 L563.31,232.53 L563.82,233.24 L564.33,233.95 L564.84,234.66 L565.35,235.35 L565.86,236.04 L566.37,236.73 L566.88,237.41 L567.39,238.08 L567.90,238.75 L568.41,239.41 L568.92,240.06 L569.43,240.71 L569.94,241.36 L570.45,241.99 L570.96,242.63 L571.47,243.26 L571.98,243.88 L572.49,244.50 L573.01,245.11 L573.52,245.72 L574.03,246.32 L574.54,246.92 L575.05,247.51 L575.56,248.10 L576.07,248.68 L576.58,249.26 L577.09,249.83 L577.60,250.40 L578.11,250.97 L578.62,251.53 L579.13,252.08 L579.64,252.64 L580.15,253.18 L580.66,253.73 L581.17,254.27 L581.68,254.80 L582.19,255.33 L582.70,255.86 L583.22,256.38 L583.73,256.90 L584.24,257.41 L584.75,257.93 L585.26,258.43 L585.77,258.94 L586.28,259.44 L586.79,259.93 L587.30,260.42 L587.81,260.91 L588.32,261.40 L588.83,261.88 L589.34,262.36 L589.85,262.83 L590.36,263.31 L590.87,263.77 L591.38,264.24 L591.89,264.70 L592.40,265.16 L592.91,265.61 L593.43,266.07 L593.94,266.52 L594.45,266.96 L594.96,267.40 L595.47,267.84 L595.98,268.28 L596.49,268.71 L597.00,269.14 L597.51,269.57 L598.02,270.00 L598.53,270.42 L599.04,270.84 L599.55,271.26 L600.06,271.67 L600.57,272.08 L601.08,272.49 L601.59,272.89 L602.10,273.30 L602.61,273.70 L603.12,274.10 L603.64,274.49 L604.15,274.88 L604.66,275.27 L605.17,275.66 L605.68,276.05 L606.19,276.43 L606.70,276.81 L607.21,277.19 L607.72,277.56 L608.23,277.94 L608.74,278.31 L609.25,278.68 L609.76,279.04 L610.27,279.41 L610.78,279.77 L611.29,280.13 L611.80,280.48 L612.31,280.84 L612.82,281.19 L613.33,281.54 L613.85,281.89 L614.36,282.24 L614.87,282.58 L615.38,282.93 L615.89,283.27 L616.40,283.61 L616.91,283.94 L617.42,284.28 L617.93,284.61 L618.44,284.94 L618.95,285.27 L619.46,285.60 L619.97,285.92 L620.48,286.24 L620.99,286.56 L621.50,286.88 L622.01,287.20 L622.52,287.52 L623.03,287.83 L623.54,288.14 L624.06,288.45 L624.57,288.76 L625.08,289.07 L625.59,289.37 L626.10,289.68 L626.61,289.98 L627.12,290.28 L627.63,290.58 L628.14,290.88 L628.65,291.17 L629.16,291.46 L629.67,291.76 L630.18,292.05 L630.69,292.34 L631.20,292.62 L631.71,292.91 L632.22,293.19 L632.73,293.48 L633.24,293.76 L633.75,294.04 L634.26,294.31 L634.78,294.59 L635.29,294.87 L635.80,295.14 L636.31,295.41 L636.82,295.68 L637.33,295.95 L637.84,296.22 L638.35,296.49 L638.86,296.75 L639.37,297.02 L639.88,297.28 L640.39,297.54 L640.90,297.80 L641.41,298.06 L641.92,298.32 L642.43,298.57 L642.94,298.83 L643.45,299.08 L643.96,299.33 L644.47,299.58 L644.99,299.83 L645.50,300.08 L646.01,300.33 L646.52,300.57 L647.03,300.82 L647.54,301.06 L648.05,301.30 L648.56,301.54 L649.07,301.78 L649.58,302.02 L650.09,302.26 L650.60,302.50 L651.11,302.73 L651.62,302.97 L652.13,303.20 L652.64,303.43 L653.15,303.66 L653.66,303.89 L654.17,304.12 L654.68,304.35 L655.20,304.57 L655.71,304.80 L656.22,305.02 L656.73,305.25 L657.24,305.47 L657.75,305.69 L658.26,305.91 L658.77,306.13 L659.28,306.35 L659.79,306.56 L660.30,306.78 L660.81,306.99 L661.32,307.21 L661.83,307.42 L662.34,307.63 L662.85,307.84 L663.36,308.05 L663.87,308.26 L664.38,308.47 L664.89,308.68 L665.41,308.88 L665.92,309.09 L666.43,309.29 L666.94,309.50 L667.45,309.70 L667.96,309.90 L668.47,310.10 L668.98,310.30 L669.49,310.50 L670.00,310.70 L670.51,310.90 L671.02,311.09 L671.53,311.29 L672.04,311.48 L672.55,311.68 L673.06,311.87 L673.57,312.06 L674.08,312.25 L674.59,312.44 L675.10,312.63 L675.62,312.82 L676.13,313.01 L676.64,313.19 L677.15,313.38 L677.66,313.57 L678.17,313.75 L678.68,313.94 L679.19,314.12 L679.70,314.30 L680.21,314.48 L680.72,314.66 L681.23,314.84 L681.74,315.02 L682.25,315.20 L682.76,315.38 L683.27,315.56 L683.78,315.73 L684.29,315.91 L684.80,316.08 L685.31,316.26 L685.83,316.43 L686.34,316.60 L686.85,316.77 L687.36,316.94 L687.87,317.12 L688.38,317.29 L688.89,317.45 L689.40,317.62 L689.91,317.79 L690.42,317.96 L690.93,318.12 L691.44,318.29 L691.95,318.45 L692.46,318.62 L692.97,318.78 L693.48,318.95 L693.99,319.11 L694.50,319.27 L695.01,319.43 L695.52,319.59 L696.03,319.75 L696.55,319.91 L697.06,320.07 L697.57,320.23 L698.08,320.38 L698.59,320.54 L699.10,320.70 L699.61,320.85 L700.12,321.01 L700.63,321.16 L701.14,321.31 L701.65,321.47 L702.16,321.62 L702.67,321.77 L703.18,321.92 L703.69,322.07 L704.20,322.22 L704.71,322.37 L705.22,322.52 L705.73,322.67 L706.24,322.82 L706.76,322.96 L707.27,323.11 L707.78,323.26 L708.29,323.40 L708.80,323.55 L709.31,323.69 L709.82,323.83 L710.33,323.98 L710.84,324.12 L711.35,324.26 L711.86,324.40 L712.37,324.55 L712.88,324.69 L713.39,324.83 L713.90,324.97 L714.41,325.11 L714.92,325.24 L715.43,325.38 L715.94,325.52 L716.45,325.66 L716.97,325.79 L717.48,325.93 L717.99,326.06 L718.50,326.20 L719.01,326.33 L719.52,326.47 L720.03,326.60 L720.54,326.73 L721.05,326.87 L721.56,327.00 L722.07,327.13 L722.58,327.26 L723.09,327.39 L723.60,327.52 L724.11,327.65 L724.62,327.78 L725.13,327.91 L725.64,328.04 L726.15,328.16 L726.66,328.29 L727.18,328.42 L727.69,328.55 L728.20,328.67 L728.71,328.80 L729.22,328.92 L729.73,329.05 L730.24,329.17 L730.75,329.29 L731.26,329.42 L731.77,329.54 L732.28,329.66 L732.79,329.78 L733.30,329.91 L733.81,330.03 L734.32,330.15 L734.83,330.27 L735.34,330.39 L735.85,330.51 L736.36,330.63 L736.87,330.75 L737.39,330.86 L737.90,330.98 L738.41,331.10 L738.92,331.22 L739.43,331.33 L739.94,331.45 L740.45,331.56 L740.96,331.68 L741.47,331.80 L741.98,331.91 L742.49,332.02 L743.00,332.14 L743.51,332.25 L744.02,332.36 L744.53,332.48 L745.04,332.59 L745.55,332.70 L746.06,332.81 L746.57,332.92 L747.08,333.03 L747.60,333.14 L748.11,333.25 L748.62,333.36 L749.13,333.47 L749.64,333.58 L750.15,333.69 L750.66,333.80 L751.17,333.91 L751.68,334.01 L752.19,334.12 L752.70,334.23" fill="none" stroke="#000" stroke-width="2.9" stroke-dasharray="3.9 6.0" stroke-dashoffset="1.57"/>
<path d="M500.63,10.50 L501.13,13.83 L501.64,17.10 L502.14,20.32 L502.65,23.49 L503.15,26.60 L503.66,29.67 L504.17,32.68 L504.67,35.65 L505.18,38.57 L505.68,41.44 L506.19,44.26 L506.69,47.04 L507.20,49.78 L507.70,52.47 L508.21,55.12 L508.71,57.72 L509.22,60.29 L509.72,62.81 L510.23,65.30 L510.73,67.75 L511.24,70.15 L511.74,72.53 L512.25,74.86 L512.75,77.16 L513.26,79.43 L513.76,81.66 L514.27,83.85 L514.77,86.02 L515.28,88.15 L515.78,90.25 L516.29,92.32 L516.79,94.36 L517.30,96.37 L517.80,98.34 L518.31,100.30 L518.81,102.22 L519.32,104.11 L519.82,105.98 L520.33,107.82 L520.84,109.64 L521.34,111.43 L521.85,113.19 L522.35,114.93 L522.86,116.65 L523.36,118.34 L523.87,120.01 L524.37,121.65 L524.88,123.28 L525.38,124.88 L525.89,126.46 L526.39,128.02 L526.90,129.56 L527.40,131.08 L527.91,132.58 L528.41,134.06 L528.92,135.52 L529.42,136.96 L529.93,138.38 L530.43,139.78 L530.94,141.17 L531.44,142.54 L531.95,143.89 L532.45,145.23 L532.96,146.54 L533.46,147.85 L533.97,149.13 L534.47,150.40 L534.98,151.66 L535.48,152.90 L535.99,154.12 L536.49,155.33 L537.00,156.53 L537.51,157.71 L538.01,158.87 L538.52,160.03 L539.02,161.17 L539.53,162.30 L540.03,163.41 L540.54,164.51 L541.04,165.60 L541.55,166.68 L542.05,167.74 L542.56,168.79 L543.06,169.83 L543.57,170.86 L544.07,171.88 L544.58,172.88 L545.08,173.88 L545.59,174.86 L546.09,175.84 L546.60,176.80 L547.10,177.75 L547.61,178.70 L548.11,179.63 L548.62,180.55 L549.12,181.46 L549.63,182.37 L550.13,183.26 L550.64,184.15 L551.14,185.02 L551.65,185.89 L552.15,186.75 L552.66,187.60 L553.16,188.44 L553.67,189.27 L554.18,190.10 L554.68,190.91 L555.19,191.72 L555.69,192.52 L556.20,193.31 L556.70,194.10 L557.21,194.87 L557.71,195.64 L558.22,196.40 L558.72,197.16 L559.23,197.91 L559.73,198.65 L560.24,199.38 L560.74,200.11 L561.25,200.83 L561.75,201.54 L562.26,202.25 L562.76,202.95 L563.27,203.64 L563.77,204.33 L564.28,205.01 L564.78,205.68 L565.29,206.35 L565.79,207.02 L566.30,207.67 L566.80,208.32 L567.31,208.97 L567.81,209.61 L568.32,210.24 L568.82,210.87 L569.33,211.50 L569.83,212.12 L570.34,212.73 L570.85,213.34 L571.35,213.94 L571.86,214.54 L572.36,215.13 L572.87,215.72 L573.37,216.30 L573.88,216.88 L574.38,217.45 L574.89,218.02 L575.39,218.58 L575.90,219.14 L576.40,219.70 L576.91,220.25 L577.41,220.79 L577.92,221.33 L578.42,221.87 L578.93,222.40 L579.43,222.93 L579.94,223.46 L580.44,223.98 L580.95,224.49 L581.45,225.01 L581.96,225.52 L582.46,226.02 L582.97,226.52 L583.47,227.02 L583.98,227.51 L584.48,228.00 L584.99,228.49 L585.49,228.97 L586.00,229.45 L586.50,229.92 L587.01,230.39 L587.52,230.86 L588.02,231.33 L588.53,231.79 L589.03,232.25 L589.54,232.70 L590.04,233.15 L590.55,233.60 L591.05,234.04 L591.56,234.49 L592.06,234.93 L592.57,235.36 L593.07,235.79 L593.58,236.22 L594.08,236.65 L594.59,237.07 L595.09,237.49 L595.60,237.91 L596.10,238.33 L596.61,238.74 L597.11,239.15 L597.62,239.55 L598.12,239.96 L598.63,240.36 L599.13,240.76 L599.64,241.15 L600.14,241.55 L600.65,241.94 L601.15,242.32 L601.66,242.71 L602.16,243.09 L602.67,243.47 L603.17,243.85 L603.68,244.23 L604.19,244.60 L604.69,244.97 L605.20,245.34 L605.70,245.70 L606.21,246.07 L606.71,246.43 L607.22,246.79 L607.72,247.14 L608.23,247.50 L608.73,247.85 L609.24,248.20 L609.74,248.55 L610.25,248.89 L610.75,249.24 L611.26,249.58 L611.76,249.92 L612.27,250.26 L612.77,250.59 L613.28,250.92 L613.78,251.26 L614.29,251.59 L614.79,251.91 L615.30,252.24 L615.80,252.56 L616.31,252.88 L616.81,253.20 L617.32,253.52 L617.82,253.84 L618.33,254.15 L618.83,254.46 L619.34,254.77 L619.84,255.08 L620.35,255.39 L620.86,255.70 L621.36,256.00 L621.87,256.30 L622.37,256.60 L622.88,256.90 L623.38,257.20 L623.89,257.49 L624.39,257.78 L624.90,258.08 L625.40,258.37 L625.91,258.66 L626.41,258.94 L626.92,259.23 L627.42,259.51 L627.93,259.79 L628.43,260.07 L628.94,260.35 L629.44,260.63 L629.95,260.91 L630.45,261.18 L630.96,261.46 L631.46,261.73 L631.97,262.00 L632.47,262.27 L632.98,262.53 L633.48,262.80 L633.99,263.07 L634.49,263.33 L635.00,263.59 L635.50,263.85 L636.01,264.11 L636.51,264.37 L637.02,264.62 L637.53,264.88 L638.03,265.13 L638.54,265.39 L639.04,265.64 L639.55,265.89 L640.05,266.14 L640.56,266.38 L641.06,266.63 L641.57,266.88 L642.07,267.12 L642.58,267.36 L643.08,267.60 L643.59,267.84 L644.09,268.08 L644.60,268.32 L645.10,268.56 L645.61,268.79 L646.11,269.03 L646.62,269.26 L647.12,269.49 L647.63,269.72 L648.13,269.95 L648.64,270.18 L649.14,270.41 L649.65,270.64 L650.15,270.86 L650.66,271.09 L651.16,271.31 L651.67,271.53 L652.17,271.75 L652.68,271.97 L653.19,272.19 L653.69,272.41 L654.20,272.63 L654.70,272.84 L655.21,273.06 L655.71,273.27 L656.22,273.49 L656.72,273.70 L657.23,273.91 L657.73,274.12 L658.24,274.33 L658.74,274.54 L659.25,274.75 L659.75,274.95 L660.26,275.16 L660.76,275.36 L661.27,275.57 L661.77,275.77 L662.28,275.97 L662.78,276.17 L663.29,276.37 L663.79,276.57 L664.30,276.77 L664.80,276.97 L665.31,277.16 L665.81,277.36 L666.32,277.55 L666.82,277.75 L667.33,277.94 L667.83,278.13 L668.34,278.32 L668.84,278.52 L669.35,278.70 L669.86,278.89 L670.36,279.08 L670.87,279.27 L671.37,279.46 L671.88,279.64 L672.38,279.83 L672.89,280.01 L673.39,280.19 L673.90,280.38 L674.40,280.56 L674.91,280.74 L675.41,280.92 L675.92,281.10 L676.42,281.28 L676.93,281.46 L677.43,281.63 L677.94,281.81 L678.44,281.99 L678.95,282.16 L679.45,282.34 L679.96,282.51 L680.46,282.68 L680.97,282.86 L681.47,283.03 L681.98,283.20 L682.48,283.37 L682.99,283.54 L683.49,283.71 L684.00,283.88 L684.50,284.04 L685.01,284.21 L685.51,284.38 L686.02,284.54 L686.53,284.71 L687.03,284.87 L687.54,285.04 L688.04,285.20 L688.55,285.36 L689.05,285.52 L689.56,285.68 L690.06,285.84 L690.57,286.00 L691.07,286.16 L691.58,286.32 L692.08,286.48 L692.59,286.64 L693.09,286.79 L693.60,286.95 L694.10,287.11 L694.61,287.26 L695.11,287.41 L695.62,287.57 L696.12,287.72 L696.63,287.87 L697.13,288.03 L697.64,288.18 L698.14,288.33 L698.65,288.48 L699.15,288.63 L699.66,288.78 L700.16,288.93 L700.67,289.07 L701.17,289.22 L701.68,289.37 L702.18,289.52 L702.69,289.66 L703.20,289.81 L703.70,289.95 L704.21,290.10 L704.71,290.24 L705.22,290.38 L705.72,290.53 L706.23,290.67 L706.73,290.81 L707.24,290.95 L707.74,291.09 L708.25,291.23 L708.75,291.37 L709.26,291.51 L709.76,291.65 L710.27,291.79 L710.77,291.92 L711.28,292.06 L711.78,292.20 L712.29,292.33 L712.79,292.47 L713.30,292.61 L713.80,292.74 L714.31,292.87 L714.81,293.01 L715.32,293.14 L715.82,293.27 L716.33,293.41 L716.83,293.54 L717.34,293.67 L717.84,293.80 L718.35,293.93 L718.85,294.06 L719.36,294.19 L719.87,294.32 L720.37,294.45 L720.88,294.58 L721.38,294.71 L721.89,294.83 L722.39,294.96 L722.90,295.09 L723.40,295.21 L723.91,295.34 L724.41,295.46 L724.92,295.59 L725.42,295.71 L725.93,295.84 L726.43,295.96 L726.94,296.08 L727.44,296.21 L727.95,296.33 L728.45,296.45 L728.96,296.57 L729.46,296.69 L729.97,296.82 L730.47,296.94 L730.98,297.06 L731.48,297.18 L731.99,297.29 L732.49,297.41 L733.00,297.53 L733.50,297.65 L734.01,297.77 L734.51,297.88 L735.02,298.00 L735.52,298.12 L736.03,298.23 L736.54,298.35 L737.04,298.46 L737.55,298.58 L738.05,298.69 L738.56,298.81 L739.06,298.92 L739.57,299.04 L740.07,299.15 L740.58,299.26 L741.08,299.37 L741.59,299.49 L742.09,299.60 L742.60,299.71 L743.10,299.82 L743.61,299.93 L744.11,300.04 L744.62,300.15 L745.12,300.26 L745.63,300.37 L746.13,300.48 L746.64,300.59 L747.14,300.70 L747.65,300.80 L748.15,300.91 L748.66,301.02 L749.16,301.12 L749.67,301.23 L750.17,301.34 L750.68,301.44 L751.18,301.55 L751.69,301.65 L752.19,301.76 L752.70,301.86" fill="none" stroke="#00f" stroke-width="1.85" stroke-dasharray="15.8 7.9" stroke-dashoffset="0.50"/>
<path d="M510.09,10.50 L510.58,12.84 L511.06,15.14 L511.55,17.40 L512.04,19.63 L512.52,21.83 L513.01,24.00 L513.50,26.13 L513.98,28.23 L514.47,30.30 L514.95,32.34 L515.44,34.35 L515.93,36.33 L516.41,38.28 L516.90,40.21 L517.38,42.10 L517.87,43.97 L518.36,45.82 L518.84,47.63 L519.33,49.43 L519.82,51.19 L520.30,52.94 L520.79,54.66 L521.27,56.35 L521.76,58.03 L522.25,59.68 L522.73,61.31 L523.22,62.92 L523.71,64.50 L524.19,66.07 L524.68,67.62 L525.16,69.14 L525.65,70.65 L526.14,72.13 L526.62,73.60 L527.11,75.05 L527.59,76.48 L528.08,77.90 L528.57,79.29 L529.05,80.67 L529.54,82.03 L530.03,83.38 L530.51,84.71 L531.00,86.02 L531.48,87.32 L531.97,88.60 L532.46,89.86 L532.94,91.11 L533.43,92.35 L533.92,93.57 L534.40,94.78 L534.89,95.98 L535.37,97.16 L535.86,98.32 L536.35,99.48 L536.83,100.62 L537.32,101.75 L537.80,102.86 L538.29,103.97 L538.78,105.06 L539.26,106.14 L539.75,107.20 L540.24,108.26 L540.72,109.30 L541.21,110.34 L541.69,111.36 L542.18,112.37 L542.67,113.37 L543.15,114.36 L543.64,115.34 L544.13,116.31 L544.61,117.27 L545.10,118.22 L545.58,119.16 L546.07,120.09 L546.56,121.01 L547.04,121.92 L547.53,122.83 L548.01,123.72 L548.50,124.60 L548.99,125.48 L549.47,126.35 L549.96,127.21 L550.45,128.06 L550.93,128.90 L551.42,129.73 L551.90,130.56 L552.39,131.38 L552.88,132.19 L553.36,132.99 L553.85,133.79 L554.34,134.58 L554.82,135.36 L555.31,136.13 L555.79,136.90 L556.28,137.66 L556.77,138.41 L557.25,139.15 L557.74,139.89 L558.22,140.63 L558.71,141.35 L559.20,142.07 L559.68,142.78 L560.17,143.49 L560.66,144.19 L561.14,144.89 L561.63,145.57 L562.11,146.26 L562.60,146.93 L563.09,147.60 L563.57,148.27 L564.06,148.93 L564.54,149.58 L565.03,150.23 L565.52,150.87 L566.00,151.51 L566.49,152.14 L566.98,152.77 L567.46,153.39 L567.95,154.01 L568.43,154.62 L568.92,155.23 L569.41,155.83 L569.89,156.43 L570.38,157.02 L570.87,157.61 L571.35,158.19 L571.84,158.77 L572.32,159.34 L572.81,159.91 L573.30,160.48 L573.78,161.04 L574.27,161.60 L574.75,162.15 L575.24,162.70 L575.73,163.24 L576.21,163.78 L576.70,164.31 L577.19,164.85 L577.67,165.37 L578.16,165.90 L578.64,166.42 L579.13,166.93 L579.62,167.44 L580.10,167.95 L580.59,168.46 L581.08,168.96 L581.56,169.46 L582.05,169.95 L582.53,170.44 L583.02,170.93 L583.51,171.41 L583.99,171.89 L584.48,172.36 L584.96,172.84 L585.45,173.31 L585.94,173.77 L586.42,174.24 L586.91,174.70 L587.40,175.15 L587.88,175.61 L588.37,176.06 L588.85,176.51 L589.34,176.95 L589.83,177.39 L590.31,177.83 L590.80,178.27 L591.29,178.70 L591.77,179.13 L592.26,179.55 L592.74,179.98 L593.23,180.40 L593.72,180.82 L594.20,181.23 L594.69,181.65 L595.17,182.06 L595.66,182.47 L596.15,182.87 L596.63,183.27 L597.12,183.67 L597.61,184.07 L598.09,184.47 L598.58,184.86 L599.06,185.25 L599.55,185.64 L600.04,186.02 L600.52,186.40 L601.01,186.78 L601.50,187.16 L601.98,187.54 L602.47,187.91 L602.95,188.28 L603.44,188.65 L603.93,189.02 L604.41,189.38 L604.90,189.74 L605.38,190.10 L605.87,190.46 L606.36,190.82 L606.84,191.17 L607.33,191.52 L607.82,191.87 L608.30,192.22 L608.79,192.56 L609.27,192.91 L609.76,193.25 L610.25,193.59 L610.73,193.93 L611.22,194.26 L611.71,194.60 L612.19,194.93 L612.68,195.26 L613.16,195.58 L613.65,195.91 L614.14,196.24 L614.62,196.56 L615.11,196.88 L615.59,197.20 L616.08,197.51 L616.57,197.83 L617.05,198.14 L617.54,198.45 L618.03,198.76 L618.51,199.07 L619.00,199.38 L619.48,199.69 L619.97,199.99 L620.46,200.29 L620.94,200.59 L621.43,200.89 L621.92,201.19 L622.40,201.48 L622.89,201.78 L623.37,202.07 L623.86,202.36 L624.35,202.65 L624.83,202.94 L625.32,203.22 L625.80,203.51 L626.29,203.79 L626.78,204.07 L627.26,204.35 L627.75,204.63 L628.24,204.91 L628.72,205.18 L629.21,205.46 L629.69,205.73 L630.18,206.00 L630.67,206.27 L631.15,206.54 L631.64,206.81 L632.13,207.08 L632.61,207.34 L633.10,207.61 L633.58,207.87 L634.07,208.13 L634.56,208.39 L635.04,208.65 L635.53,208.90 L636.01,209.16 L636.50,209.42 L636.99,209.67 L637.47,209.92 L637.96,210.17 L638.45,210.42 L638.93,210.67 L639.42,210.92 L639.90,211.16 L640.39,211.41 L640.88,211.65 L641.36,211.90 L641.85,212.14 L642.34,212.38 L642.82,212.62 L643.31,212.86 L643.79,213.09 L644.28,213.33 L644.77,213.57 L645.25,213.80 L645.74,214.03 L646.22,214.26 L646.71,214.49 L647.20,214.72 L647.68,214.95 L648.17,215.18 L648.66,215.41 L649.14,215.63 L649.63,215.86 L650.11,216.08 L650.60,216.30 L651.09,216.52 L651.57,216.74 L652.06,216.96 L652.55,217.18 L653.03,217.40 L653.52,217.62 L654.00,217.83 L654.49,218.05 L654.98,218.26 L655.46,218.47 L655.95,218.69 L656.43,218.90 L656.92,219.11 L657.41,219.32 L657.89,219.52 L658.38,219.73 L658.87,219.94 L659.35,220.14 L659.84,220.35 L660.32,220.55 L660.81,220.76 L661.30,220.96 L661.78,221.16 L662.27,221.36 L662.76,221.56 L663.24,221.76 L663.73,221.96 L664.21,222.15 L664.70,222.35 L665.19,222.54 L665.67,222.74 L666.16,222.93 L666.64,223.13 L667.13,223.32 L667.62,223.51 L668.10,223.70 L668.59,223.89 L669.08,224.08 L669.56,224.27 L670.05,224.46 L670.53,224.64 L671.02,224.83 L671.51,225.01 L671.99,225.20 L672.48,225.38 L672.97,225.57 L673.45,225.75 L673.94,225.93 L674.42,226.11 L674.91,226.29 L675.40,226.47 L675.88,226.65 L676.37,226.83 L676.85,227.00 L677.34,227.18 L677.83,227.36 L678.31,227.53 L678.80,227.71 L679.29,227.88 L679.77,228.05 L680.26,228.23 L680.74,228.40 L681.23,228.57 L681.72,228.74 L682.20,228.91 L682.69,229.08 L683.18,229.25 L683.66,229.42 L684.15,229.59 L684.63,229.75 L685.12,229.92 L685.61,230.08 L686.09,230.25 L686.58,230.41 L687.06,230.58 L687.55,230.74 L688.04,230.90 L688.52,231.07 L689.01,231.23 L689.50,231.39 L689.98,231.55 L690.47,231.71 L690.95,231.87 L691.44,232.02 L691.93,232.18 L692.41,232.34 L692.90,232.50 L693.38,232.65 L693.87,232.81 L694.36,232.96 L694.84,233.12 L695.33,233.27 L695.82,233.43 L696.30,233.58 L696.79,233.73 L697.27,233.88 L697.76,234.03 L698.25,234.18 L698.73,234.33 L699.22,234.48 L699.71,234.63 L700.19,234.78 L700.68,234.93 L701.16,235.08 L701.65,235.22 L702.14,235.37 L702.62,235.52 L703.11,235.66 L703.59,235.81 L704.08,235.95 L704.57,236.10 L705.05,236.24 L705.54,236.38 L706.03,236.52 L706.51,236.67 L707.00,236.81 L707.48,236.95 L707.97,237.09 L708.46,237.23 L708.94,237.37 L709.43,237.51 L709.92,237.65 L710.40,237.79 L710.89,237.92 L711.37,238.06 L711.86,238.20 L712.35,238.33 L712.83,238.47 L713.32,238.61 L713.80,238.74 L714.29,238.87 L714.78,239.01 L715.26,239.14 L715.75,239.28 L716.24,239.41 L716.72,239.54 L717.21,239.67 L717.69,239.80 L718.18,239.94 L718.67,240.07 L719.15,240.20 L719.64,240.33 L720.13,240.46 L720.61,240.58 L721.10,240.71 L721.58,240.84 L722.07,240.97 L722.56,241.10 L723.04,241.22 L723.53,241.35 L724.01,241.48 L724.50,241.60 L724.99,241.73 L725.47,241.85 L725.96,241.98 L726.45,242.10 L726.93,242.22 L727.42,242.35 L727.90,242.47 L728.39,242.59 L728.88,242.72 L729.36,242.84 L729.85,242.96 L730.34,243.08 L730.82,243.20 L731.31,243.32 L731.79,243.44 L732.28,243.56 L732.77,243.68 L733.25,243.80 L733.74,243.92 L734.22,244.04 L734.71,244.15 L735.20,244.27 L735.68,244.39 L736.17,244.50 L736.66,244.62 L737.14,244.74 L737.63,244.85 L738.11,244.97 L738.60,245.08 L739.09,245.20 L739.57,245.31 L740.06,245.43 L740.55,245.54 L741.03,245.65 L741.52,245.77 L742.00,245.88 L742.49,245.99 L742.98,246.10 L743.46,246.21 L743.95,246.33 L744.43,246.44 L744.92,246.55 L745.41,246.66 L745.89,246.77 L746.38,246.88 L746.87,246.99 L747.35,247.10 L747.84,247.20 L748.32,247.31 L748.81,247.42 L749.30,247.53 L749.78,247.64 L750.27,247.74 L750.76,247.85 L751.24,247.96 L751.73,248.06 L752.21,248.17 L752.70,248.27" fill="none" stroke="#f00" stroke-width="1.85" stroke-dasharray="23.4 8.1 3.7 8.2" stroke-dashoffset="0.00"/>
<rect x="60.85" y="10.5" width="301.15" height="421.40" fill="none" stroke="#000" stroke-width="1.6"/>
<path d="M80.93,10.5v3.2M80.93,431.9v-3.2M101.00,10.5v3.2M101.00,431.9v-3.2M121.08,10.5v3.2M121.08,431.9v-3.2M141.16,10.5v3.2M141.16,431.9v-3.2M161.23,10.5v6.4M161.23,431.9v-6.4M181.31,10.5v3.2M181.31,431.9v-3.2M201.39,10.5v3.2M201.39,431.9v-3.2M221.46,10.5v3.2M221.46,431.9v-3.2M241.54,10.5v3.2M241.54,431.9v-3.2M261.62,10.5v6.4M261.62,431.9v-6.4M281.69,10.5v3.2M281.69,431.9v-3.2M301.77,10.5v3.2M301.77,431.9v-3.2M321.85,10.5v3.2M321.85,431.9v-3.2M341.92,10.5v3.2M341.92,431.9v-3.2M60.85,38.59h3.2M362.0,38.59h-3.2M60.85,66.69h3.2M362.0,66.69h-3.2M60.85,94.78h3.2M362.0,94.78h-3.2M60.85,122.87h3.2M362.0,122.87h-3.2M60.85,150.97h6.4M362.0,150.97h-6.4M60.85,179.06h3.2M362.0,179.06h-3.2M60.85,207.15h3.2M362.0,207.15h-3.2M60.85,235.25h3.2M362.0,235.25h-3.2M60.85,263.34h3.2M362.0,263.34h-3.2M60.85,291.43h6.4M362.0,291.43h-6.4M60.85,319.53h3.2M362.0,319.53h-3.2M60.85,347.62h3.2M362.0,347.62h-3.2M60.85,375.71h3.2M362.0,375.71h-3.2M60.85,403.81h3.2M362.0,403.81h-3.2" fill="none" stroke="#000" stroke-width="1.6"/>
<rect x="439.15" y="10.5" width="313.55" height="415.60" fill="none" stroke="#000" stroke-width="1.6"/>
<path d="M460.05,10.5v3.2M460.05,426.1v-3.2M480.96,10.5v3.2M480.96,426.1v-3.2M501.86,10.5v3.2M501.86,426.1v-3.2M522.76,10.5v3.2M522.76,426.1v-3.2M543.67,10.5v6.4M543.67,426.1v-6.4M564.57,10.5v3.2M564.57,426.1v-3.2M585.47,10.5v3.2M585.47,426.1v-3.2M606.38,10.5v3.2M606.38,426.1v-3.2M627.28,10.5v3.2M627.28,426.1v-3.2M648.18,10.5v6.4M648.18,426.1v-6.4M669.09,10.5v3.2M669.09,426.1v-3.2M689.99,10.5v3.2M689.99,426.1v-3.2M710.89,10.5v3.2M710.89,426.1v-3.2M731.80,10.5v3.2M731.80,426.1v-3.2M439.15,45.13h3.2M752.7,45.13h-3.2M439.15,79.77h3.2M752.7,79.77h-3.2M439.15,114.40h3.2M752.7,114.40h-3.2M439.15,149.03h6.4M752.7,149.03h-6.4M439.15,183.67h3.2M752.7,183.67h-3.2M439.15,218.30h3.2M752.7,218.30h-3.2M439.15,252.93h3.2M752.7,252.93h-3.2M439.15,287.57h6.4M752.7,287.57h-6.4M439.15,322.20h3.2M752.7,322.20h-3.2M439.15,356.83h3.2M752.7,356.83h-3.2M439.15,391.47h3.2M752.7,391.47h-3.2" fill="none" stroke="#000" stroke-width="1.6"/>
<path d="M272.5,289.0H339.0" fill="none" stroke="#000" stroke-width="1.85"/>
<path d="M272.5,323.8H339.0" fill="none" stroke="#000" stroke-width="2.9" stroke-dasharray="3.9 6.0"/>
<path d="M272.5,359.0H339.0" fill="none" stroke="#00f" stroke-width="1.85" stroke-dasharray="15.8 7.9"/>
<path d="M272.5,393.8H339.0" fill="none" stroke="#f00" stroke-width="1.85" stroke-dasharray="23.4 8.1 3.7 8.2"/>
<g opacity="0.999">
<text transform="matrix(0.2430,0,0,0.2401,37.47,17.02)" font-size="100" stroke="#fff" stroke-width="0.2" vector-effect="non-scaling-stroke">0</text>
<text transform="matrix(0.2464,0,0,0.2543,-1.11,157.59)" font-size="100" stroke="#fff" stroke-width="0.2" vector-effect="non-scaling-stroke">-</text>
<text transform="matrix(0.2430,0,0,0.2401,7.57,157.52)" font-size="100" stroke="#fff" stroke-width="0.2" vector-effect="non-scaling-stroke">0</text>
<text transform="matrix(0.2285,0,0,0.2370,19.59,157.11)" font-size="100" stroke="#fff" stroke-width="0.2" vector-effect="non-scaling-stroke">.</text>
<text transform="matrix(0.2430,0,0,0.2401,25.77,157.52)" font-size="100" stroke="#fff" stroke-width="0.2" vector-effect="non-scaling-stroke">0</text>
<text transform="matrix(0.2301,0,0,0.2378,37.48,157.45)" font-size="100" stroke="#fff" stroke-width="0.2" vector-effect="non-scaling-stroke">1</text>
<text transform="matrix(0.2464,0,0,0.2543,-1.11,297.99)" font-size="100" stroke="#fff" stroke-width="0.2" vector-effect="non-scaling-stroke">-</text>
<text transform="matrix(0.2430,0,0,0.2401,7.57,297.92)" font-size="100" stroke="#fff" stroke-width="0.2" vector-effect="non-scaling-stroke">0</text>
<text transform="matrix(0.2285,0,0,0.2370,19.59,297.51)" font-size="100" stroke="#fff" stroke-width="0.2" vector-effect="non-scaling-stroke">.</text>
<text transform="matrix(0.2430,0,0,0.2401,25.77,297.92)" font-size="100" stroke="#fff" stroke-width="0.2" vector-effect="non-scaling-stroke">0</text>
<text transform="matrix(0.2519,0,0,0.2447,37.19,298.15)" font-size="100" stroke="#fff" stroke-width="0.2" vector-effect="non-scaling-stroke">2</text>
<text transform="matrix(0.2464,0,0,0.2543,-1.11,438.49)" font-size="100" stroke="#fff" stroke-width="0.2" vector-effect="non-scaling-stroke">-</text>
<text transform="matrix(0.2430,0,0,0.2401,7.57,438.42)" font-size="100" stroke="#fff" stroke-width="0.2" vector-effect="non-scaling-stroke">0</text>
<text transform="matrix(0.2285,0,0,0.2370,19.59,438.01)" font-size="100" stroke="#fff" stroke-width="0.2" vector-effect="non-scaling-stroke">.</text>
<text transform="matrix(0.2430,0,0,0.2401,25.77,438.42)" font-size="100" stroke="#fff" stroke-width="0.2" vector-effect="non-scaling-stroke">0</text>
<text transform="matrix(0.2397,0,0,0.2411,37.25,438.41)" font-size="100" stroke="#fff" stroke-width="0.2" vector-effect="non-scaling-stroke">3</text>
<text transform="matrix(0.2430,0,0,0.2401,386.17,17.02)" font-size="100" stroke="#fff" stroke-width="0.2" vector-effect="non-scaling-stroke">0</text>
<text transform="matrix(0.2285,0,0,0.2370,398.19,16.61)" font-size="100" stroke="#fff" stroke-width="0.2" vector-effect="non-scaling-stroke">.</text>
<text transform="matrix(0.2430,0,0,0.2401,404.37,17.02)" font-size="100" stroke="#fff" stroke-width="0.2" vector-effect="non-scaling-stroke">0</text>
<text transform="matrix(0.2397,0,0,0.2411,415.85,17.01)" font-size="100" stroke="#fff" stroke-width="0.2" vector-effect="non-scaling-stroke">3</text>
<text transform="matrix(0.2430,0,0,0.2401,386.17,155.52)" font-size="100" stroke="#fff" stroke-width="0.2" vector-effect="non-scaling-stroke">0</text>
<text transform="matrix(0.2285,0,0,0.2370,398.19,155.11)" font-size="100" stroke="#fff" stroke-width="0.2" vector-effect="non-scaling-stroke">.</text>
<text transform="matrix(0.2430,0,0,0.2401,404.37,155.52)" font-size="100" stroke="#fff" stroke-width="0.2" vector-effect="non-scaling-stroke">0</text>
<text transform="matrix(0.2519,0,0,0.2447,415.79,155.75)" font-size="100" stroke="#fff" stroke-width="0.2" vector-effect="non-scaling-stroke">2</text>
<text transform="matrix(0.2430,0,0,0.2401,386.17,294.12)" font-size="100" stroke="#fff" stroke-width="0.2" vector-effect="non-scaling-stroke">0</text>
<text transform="matrix(0.2285,0,0,0.2370,398.19,293.71)" font-size="100" stroke="#fff" stroke-width="0.2" vector-effect="non-scaling-stroke">.</text>
<text transform="matrix(0.2430,0,0,0.2401,404.37,294.12)" font-size="100" stroke="#fff" stroke-width="0.2" vector-effect="non-scaling-stroke">0</text>
<text transform="matrix(0.2301,0,0,0.2378,416.08,294.05)" font-size="100" stroke="#fff" stroke-width="0.2" vector-effect="non-scaling-stroke">1</text>
<text transform="matrix(0.2430,0,0,0.2401,416.07,432.62)" font-size="100" stroke="#fff" stroke-width="0.2" vector-effect="non-scaling-stroke">0</text>
<text transform="matrix(0.2430,0,0,0.2401,55.17,457.67)" font-size="100" stroke="#fff" stroke-width="0.2" vector-effect="non-scaling-stroke">0</text>
<text transform="matrix(0.2430,0,0,0.2401,433.47,452.57)" font-size="100" stroke="#fff" stroke-width="0.2" vector-effect="non-scaling-stroke">0</text>
<text transform="matrix(0.2301,0,0,0.2378,149.71,457.60)" font-size="100" stroke="#fff" stroke-width="0.2" vector-effect="non-scaling-stroke">1</text>
<text transform="matrix(0.2430,0,0,0.2401,161.41,457.67)" font-size="100" stroke="#fff" stroke-width="0.2" vector-effect="non-scaling-stroke">0</text>
<text transform="matrix(0.2301,0,0,0.2378,532.14,452.50)" font-size="100" stroke="#fff" stroke-width="0.2" vector-effect="non-scaling-stroke">1</text>
<text transform="matrix(0.2430,0,0,0.2401,543.84,452.57)" font-size="100" stroke="#fff" stroke-width="0.2" vector-effect="non-scaling-stroke">0</text>
<text transform="matrix(0.2519,0,0,0.2447,249.81,457.90)" font-size="100" stroke="#fff" stroke-width="0.2" vector-effect="non-scaling-stroke">2</text>
<text transform="matrix(0.2430,0,0,0.2401,261.79,457.67)" font-size="100" stroke="#fff" stroke-width="0.2" vector-effect="non-scaling-stroke">0</text>
<text transform="matrix(0.2519,0,0,0.2447,636.38,452.80)" font-size="100" stroke="#fff" stroke-width="0.2" vector-effect="non-scaling-stroke">2</text>
<text transform="matrix(0.2430,0,0,0.2401,648.36,452.57)" font-size="100" stroke="#fff" stroke-width="0.2" vector-effect="non-scaling-stroke">0</text>
<text transform="matrix(0.2397,0,0,0.2411,350.25,457.66)" font-size="100" stroke="#fff" stroke-width="0.2" vector-effect="non-scaling-stroke">3</text>
<text transform="matrix(0.2430,0,0,0.2401,362.17,457.67)" font-size="100" stroke="#fff" stroke-width="0.2" vector-effect="non-scaling-stroke">0</text>
<text transform="matrix(0.2397,0,0,0.2411,740.95,452.56)" font-size="100" stroke="#fff" stroke-width="0.2" vector-effect="non-scaling-stroke">3</text>
<text transform="matrix(0.2430,0,0,0.2401,752.87,452.57)" font-size="100" stroke="#fff" stroke-width="0.2" vector-effect="non-scaling-stroke">0</text>
<text transform="matrix(0.2664,0,0,0.2657,290.90,477.30)" font-size="100" font-style="italic" stroke="#fff" stroke-width="0.2" vector-effect="non-scaling-stroke">N</text>
<text transform="matrix(0.2664,0,0,0.2657,676.10,478.00)" font-size="100" font-style="italic" stroke="#fff" stroke-width="0.2" vector-effect="non-scaling-stroke">N</text>
<text transform="matrix(0.3279,0,0,0.3240,245.20,67.27)" font-size="100" font-style="italic" stroke="#fff" stroke-width="0.35" vector-effect="non-scaling-stroke">C</text>
<text transform="matrix(0.2465,0,0,0.2192,265.01,70.97)" font-size="100" font-style="italic" stroke="#fff" stroke-width="0.35" vector-effect="non-scaling-stroke">T</text>
<text transform="matrix(0.1847,0,0,0.2472,279.92,70.97)" font-size="100" stroke="#fff" stroke-width="0.35" vector-effect="non-scaling-stroke">,</text>
<text transform="matrix(0.2317,0,0,0.1763,283.63,71.07)" font-size="100" stroke="#fff" stroke-width="0.35" vector-effect="non-scaling-stroke">g</text>
<text transform="matrix(0.2940,0,0,0.3193,296.53,67.18)" font-size="100" stroke="#fff" stroke-width="0.35" vector-effect="non-scaling-stroke">(</text>
<text transform="matrix(0.3254,0,0,0.3215,307.96,67.27)" font-size="100" font-style="italic" stroke="#fff" stroke-width="0.35" vector-effect="non-scaling-stroke">N</text>
<text transform="matrix(0.2901,0,0,0.3193,331.89,67.18)" font-size="100" stroke="#fff" stroke-width="0.35" vector-effect="non-scaling-stroke">)</text>
<text transform="matrix(0.3337,0,0,0.3077,619.77,67.17)" font-size="100" font-style="italic" stroke="#fff" stroke-width="0.35" vector-effect="non-scaling-stroke">N</text>
<text transform="matrix(0.3198,0,0,0.3180,643.04,67.38)" font-size="100" font-style="italic" stroke="#fff" stroke-width="0.35" vector-effect="non-scaling-stroke">C</text>
<text transform="matrix(0.2555,0,0,0.1901,665.75,55.57)" font-size="100" font-style="italic" stroke="#fff" stroke-width="0.35" vector-effect="non-scaling-stroke">T</text>
<text transform="matrix(0.2603,0,0,0.2115,664.03,73.77)" font-size="100" font-style="italic" stroke="#fff" stroke-width="0.35" vector-effect="non-scaling-stroke">L</text>
<text transform="matrix(0.1981,0,0,0.2395,677.27,73.69)" font-size="100" stroke="#fff" stroke-width="0.35" vector-effect="non-scaling-stroke">,</text>
<text transform="matrix(0.2158,0,0,0.1735,681.30,74.03)" font-size="100" stroke="#fff" stroke-width="0.35" vector-effect="non-scaling-stroke">g</text>
<text transform="matrix(0.2940,0,0,0.3193,693.63,67.18)" font-size="100" stroke="#fff" stroke-width="0.35" vector-effect="non-scaling-stroke">(</text>
<text transform="matrix(0.3254,0,0,0.3215,705.06,67.27)" font-size="100" font-style="italic" stroke="#fff" stroke-width="0.35" vector-effect="non-scaling-stroke">N</text>
<text transform="matrix(0.2901,0,0,0.3193,728.99,67.18)" font-size="100" stroke="#fff" stroke-width="0.35" vector-effect="non-scaling-stroke">)</text>
<text transform="matrix(0.2670,0,0,0.2514,209.14,295.05)" font-size="100" stroke="#fff" stroke-width="0.2" vector-effect="non-scaling-stroke">t</text>
<text transform="matrix(0.2407,0,0,0.2225,216.38,295.18)" font-size="100" stroke="#fff" stroke-width="0.2" vector-effect="non-scaling-stroke">o</text>
<text transform="matrix(0.2599,0,0,0.2220,237.33,295.17)" font-size="100" font-style="italic" stroke="#fff" stroke-width="0.2" vector-effect="non-scaling-stroke">α</text>
<text transform="matrix(0.1821,0,0,0.1601,250.90,286.90)" font-size="100" stroke="#fff" stroke-width="0.2" vector-effect="non-scaling-stroke">2</text>
<text transform="matrix(0.2099,0,0,0.1580,250.09,300.25)" font-size="100" stroke="#fff" stroke-width="0.2" vector-effect="non-scaling-stroke">s</text>
<text transform="matrix(0.3052,0,0,0.3048,216.48,333.92)" font-size="100" stroke="#fff" stroke-width="0.2" vector-effect="non-scaling-stroke">+</text>
<text transform="matrix(0.2356,0,0,0.2260,233.92,330.10)" font-size="100" stroke="#fff" stroke-width="0.2" vector-effect="non-scaling-stroke">L</text>
<text transform="matrix(0.2395,0,0,0.2260,247.11,330.10)" font-size="100" stroke="#fff" stroke-width="0.2" vector-effect="non-scaling-stroke">L</text>
<text transform="matrix(0.2987,0,0,0.3048,201.01,369.02)" font-size="100" stroke="#fff" stroke-width="0.2" vector-effect="non-scaling-stroke">+</text>
<text transform="matrix(0.2267,0,0,0.2260,218.25,365.20)" font-size="100" stroke="#fff" stroke-width="0.2" vector-effect="non-scaling-stroke">N</text>
<text transform="matrix(0.2395,0,0,0.2260,233.91,365.20)" font-size="100" stroke="#fff" stroke-width="0.2" vector-effect="non-scaling-stroke">L</text>
<text transform="matrix(0.2376,0,0,0.2260,247.22,365.20)" font-size="100" stroke="#fff" stroke-width="0.2" vector-effect="non-scaling-stroke">L</text>
<text transform="matrix(0.3052,0,0,0.3048,184.58,404.02)" font-size="100" stroke="#fff" stroke-width="0.2" vector-effect="non-scaling-stroke">+</text>
<text transform="matrix(0.2327,0,0,0.2260,201.83,400.20)" font-size="100" stroke="#fff" stroke-width="0.2" vector-effect="non-scaling-stroke">N</text>
<text transform="matrix(0.2267,0,0,0.2260,218.25,400.20)" font-size="100" stroke="#fff" stroke-width="0.2" vector-effect="non-scaling-stroke">N</text>
<text transform="matrix(0.2395,0,0,0.2260,233.91,400.20)" font-size="100" stroke="#fff" stroke-width="0.2" vector-effect="non-scaling-stroke">L</text>
<text transform="matrix(0.2376,0,0,0.2260,247.22,400.20)" font-size="100" stroke="#fff" stroke-width="0.2" vector-effect="non-scaling-stroke">L</text>
<text transform="matrix(0.2716,0,0,0.2262,468.59,397.77)" font-size="100" font-style="italic" stroke="#fff" stroke-width="0.2" vector-effect="non-scaling-stroke">α</text>
<text transform="matrix(0.1987,0,0,0.1559,482.78,401.25)" font-size="100" stroke="#fff" stroke-width="0.2" vector-effect="non-scaling-stroke">s</text>
<text transform="matrix(0.3460,0,0,0.2200,496.38,398.95)" font-size="100" stroke="#fff" stroke-width="0.2" vector-effect="non-scaling-stroke">=</text>
<text transform="matrix(0.2454,0,0,0.2416,521.87,398.06)" font-size="100" stroke="#fff" stroke-width="0.2" vector-effect="non-scaling-stroke">0</text>
<text transform="matrix(0.2370,0,0,0.2285,534.14,397.68)" font-size="100" stroke="#fff" stroke-width="0.2" vector-effect="non-scaling-stroke">.</text>
<text transform="matrix(0.2216,0,0,0.2409,540.15,397.90)" font-size="100" stroke="#fff" stroke-width="0.2" vector-effect="non-scaling-stroke">1</text>
<text transform="matrix(0.2644,0,0,0.2401,551.34,397.90)" font-size="100" stroke="#fff" stroke-width="0.2" vector-effect="non-scaling-stroke">2</text>
<text transform="matrix(0.2686,0,0,0.2764,563.48,397.55)" font-size="100" stroke="#fff" stroke-width="0.2" vector-effect="non-scaling-stroke">,</text>
<text transform="matrix(0.3145,0,0,0.2313,580.58,398.00)" font-size="100" font-style="italic" stroke="#fff" stroke-width="0.2" vector-effect="non-scaling-stroke">n</text>
<text transform="matrix(0.2174,0,0,0.1538,595.46,400.73)" font-size="100" font-style="italic" stroke="#fff" stroke-width="0.2" vector-effect="non-scaling-stroke">f</text>
<text transform="matrix(0.3460,0,0,0.2200,611.38,398.95)" font-size="100" stroke="#fff" stroke-width="0.2" vector-effect="non-scaling-stroke">=</text>
<text transform="matrix(0.2482,0,0,0.2453,636.06,398.06)" font-size="100" stroke="#fff" stroke-width="0.2" vector-effect="non-scaling-stroke">5</text>
</g>
</svg></body></html>
